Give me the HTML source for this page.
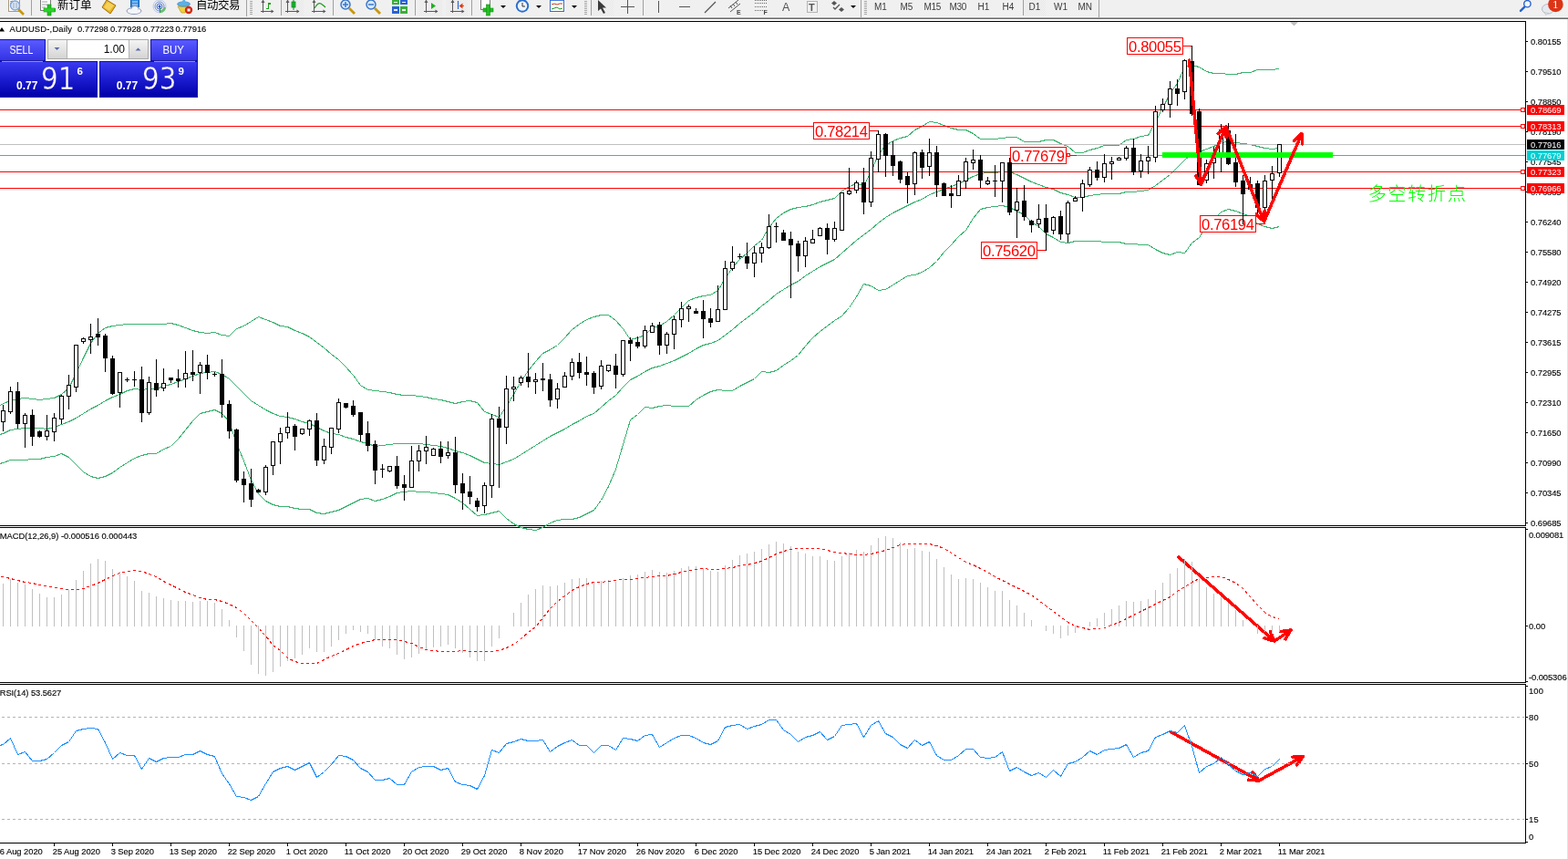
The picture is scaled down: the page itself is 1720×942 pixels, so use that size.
<!DOCTYPE html><html><head><meta charset="utf-8"><title>AUDUSD-,Daily</title>
<style>html,body{margin:0;padding:0;background:#fff;overflow:hidden;}svg{display:block;}text{white-space:pre;}</style></head><body>
<svg width="1720" height="942" viewBox="0 0 1720 942">
<defs><linearGradient id="gtab" x1="0" y1="0" x2="0" y2="1"><stop offset="0" stop-color="#5a5aff"/><stop offset="1" stop-color="#3333e6"/></linearGradient><linearGradient id="gboxU" gradientUnits="userSpaceOnUse" x1="0" y1="68" x2="0" y2="106"><stop offset="0" stop-color="#3a3af0"/><stop offset="0.5" stop-color="#1c1cd0"/><stop offset="1" stop-color="#0000a8"/></linearGradient><linearGradient id="gbox" x1="0" y1="0" x2="0" y2="1"><stop offset="0" stop-color="#3a3af0"/><stop offset="0.5" stop-color="#1c1cd0"/><stop offset="1" stop-color="#0000a8"/></linearGradient><linearGradient id="gbtn" x1="0" y1="0" x2="0" y2="1"><stop offset="0" stop-color="#f4f4f4"/><stop offset="1" stop-color="#d4d4d4"/></linearGradient><pattern id="pdot" width="2" height="2" patternUnits="userSpaceOnUse"><rect width="2" height="2" fill="#f4f4f4"/><rect width="1" height="1" fill="#e6e6e6"/><rect x="1" y="1" width="1" height="1" fill="#e6e6e6"/></pattern></defs>
<g shape-rendering="crispEdges">
<rect x="0" y="0" width="1720" height="18" fill="#f0f0f0"/>
<rect x="0" y="18" width="1720" height="1" fill="#f7f7f7"/>
<rect x="0" y="19" width="1720" height="1" fill="#a6a6a6"/>
<rect x="0" y="20" width="1720" height="1" fill="#6a6a6a"/>
</g>
<g id="toolbar">
<g shape-rendering="crispEdges">
<rect x="34" y="0" width="1" height="17" fill="#a0a0a0"/>
<rect x="270" y="0" width="1" height="18" fill="#a0a0a0"/>
<rect x="308" y="0" width="1" height="17" fill="#a0a0a0"/>
<rect x="365" y="0" width="1" height="17" fill="#a0a0a0"/>
<rect x="455" y="0" width="1" height="17" fill="#a0a0a0"/>
<rect x="517" y="0" width="1" height="17" fill="#a0a0a0"/>
<rect x="648" y="0" width="1" height="17" fill="#a0a0a0"/>
<rect x="705" y="0" width="1" height="17" fill="#a0a0a0"/>
<rect x="944" y="0" width="1" height="19" fill="#a0a0a0"/>
<rect x="1205" y="0" width="1" height="19" fill="#a0a0a0"/>
<!-- pressed buttons -->
<rect x="309" y="0" width="24" height="17" fill="url(#pdot)"/>
<rect x="460" y="0" width="25" height="17" fill="url(#pdot)"/>
<rect x="489" y="0" width="24" height="17" fill="url(#pdot)"/>
<rect x="649" y="0" width="24" height="17" fill="url(#pdot)"/>
<rect x="1122" y="0" width="25" height="17" fill="url(#pdot)"/>
<rect x="1122" y="0" width="1" height="17" fill="#a0a0a0"/>
<!-- grips -->
<g fill="#a8a8a8">
<rect x="274" y="1" width="3" height="1"/><rect x="274" y="3" width="3" height="1"/><rect x="274" y="5" width="3" height="1"/><rect x="274" y="7" width="3" height="1"/><rect x="274" y="9" width="3" height="1"/><rect x="274" y="11" width="3" height="1"/><rect x="274" y="13" width="3" height="1"/><rect x="274" y="15" width="3" height="1"/>
<rect x="641" y="1" width="3" height="1"/><rect x="641" y="3" width="3" height="1"/><rect x="641" y="5" width="3" height="1"/><rect x="641" y="7" width="3" height="1"/><rect x="641" y="9" width="3" height="1"/><rect x="641" y="11" width="3" height="1"/><rect x="641" y="13" width="3" height="1"/><rect x="641" y="15" width="3" height="1"/>
<rect x="948" y="1" width="3" height="1"/><rect x="948" y="3" width="3" height="1"/><rect x="948" y="5" width="3" height="1"/><rect x="948" y="7" width="3" height="1"/><rect x="948" y="9" width="3" height="1"/><rect x="948" y="11" width="3" height="1"/><rect x="948" y="13" width="3" height="1"/><rect x="948" y="15" width="3" height="1"/>
</g>
</g>
<!-- 1 magnifier doc -->
<rect x="9.5" y="-3.5" width="12" height="16" fill="#fff" stroke="#a89a80"/>
<path d="M11,2 L14,1 M11,4 L16,3" stroke="#8a8a8a" stroke-width="1"/>
<line x1="20" y1="10" x2="26" y2="16" stroke="#c8980f" stroke-width="2.6"/>
<circle cx="16.5" cy="6" r="5" fill="#dce8f6" stroke="#80a4d4" stroke-width="1.4"/>
<path d="M15,3 L15,9 M18,3 L18,9" stroke="#9aa8b8" stroke-width="1"/>
<!-- 3 new order -->
<rect x="44.5" y="-3.5" width="11" height="15" fill="#fff" stroke="#7c7c7c"/>
<path d="M46,2 L52,2 M46,5 L52,5 M46,8 L50,8" stroke="#a0a0a0" stroke-width="1"/>
<path d="M51.5,5.5 h4 v-0 M51,9 h10 v4 h-10 z" fill="#22c222"/>
<rect x="48" y="9" width="12" height="4" fill="#22c022" stroke="#119011" stroke-width="0.6"/>
<rect x="52" y="5" width="4" height="12" fill="#22c022" stroke="#119011" stroke-width="0.6"/>
<rect x="48.3" y="9.3" width="11.4" height="3.4" fill="#2ad42a"/>
<text x="63" y="10" style="font-size:12.5px" font-family='"Noto Sans CJK SC", "WenQuanYi Zen Hei", sans-serif' fill="#000">新订单</text>
<!-- 5 gold -->
<polygon points="112,8 117,0 127,6 121,15" fill="#e6b422" stroke="#a8700c" stroke-width="1"/>
<polygon points="114,8 118,2 125,6 120,12" fill="#f4d25a"/>
<!-- 6 cloud server -->
<rect x="143.5" y="-2.5" width="9" height="10" fill="#2f8be0" stroke="#1c64b4"/>
<path d="M145,2 h6 M145,5 h6" stroke="#cfe6ff" stroke-width="1"/>
<ellipse cx="147" cy="12" rx="8" ry="3.5" fill="#f2f5fa" stroke="#8c9ab4"/>
<ellipse cx="148" cy="9.5" rx="4" ry="3" fill="#f2f5fa" stroke="#8c9ab4"/>
<ellipse cx="147" cy="12.3" rx="7" ry="2.6" fill="#f2f5fa"/>
<!-- 7 radar -->
<circle cx="175" cy="7" r="7" fill="none" stroke="#b8c8e8" stroke-width="1"/>
<circle cx="175" cy="7" r="5" fill="none" stroke="#6a8ed8" stroke-width="1"/>
<circle cx="175" cy="7" r="3" fill="none" stroke="#4a70c8" stroke-width="1"/>
<path d="M176,13 A6,6 0 0 0 181,8" fill="none" stroke="#6cbf6c" stroke-width="2"/>
<line x1="175.5" y1="7" x2="175.5" y2="14" stroke="#2aa02a" stroke-width="1.2"/>
<circle cx="175" cy="7" r="1.5" fill="#2a5ac8"/>
<!-- 8 wizard -->
<polygon points="195,7 208,7 203,14 199,14" fill="#f0d040" stroke="#c0a020" stroke-width="0.8"/>
<ellipse cx="201.5" cy="4.5" rx="7" ry="2.6" fill="#5ab0e8" stroke="#3a88c8" stroke-width="0.8"/>
<polygon points="199,4 204,4 202,-3" fill="#5ab0e8"/>
<circle cx="207" cy="11" r="4.2" fill="#d42814"/>
<rect x="205.5" y="9.5" width="3" height="3" fill="#fff"/>
<text x="215" y="10" style="font-size:12.5px;letter-spacing:-0.5px" font-family='"Noto Sans CJK SC", "WenQuanYi Zen Hei", sans-serif' fill="#000">自动交易</text>
<!-- chart type icons -->
<g stroke="#5a5a5a" stroke-width="1" shape-rendering="crispEdges" fill="none">
<path d="M288.5,1 V14 M286,12.5 H300"/>
<path d="M315.5,1 V14 M313,12.5 H328"/>
<path d="M344.5,1 V14 M342,12.5 H357"/>
<path d="M467.5,1 V14 M465,12.5 H480"/>
<path d="M496.5,1 V14 M494,12.5 H509"/>
</g>
<polygon points="286.5,3 290.5,3 288.5,-0.5" fill="#5a5a5a"/><polygon points="297.5,10.5 297.5,14.5 300.5,12.5" fill="#5a5a5a"/><polygon points="313.5,3 317.5,3 315.5,-0.5" fill="#5a5a5a"/><polygon points="325.5,10.5 325.5,14.5 328.5,12.5" fill="#5a5a5a"/><polygon points="342.5,3 346.5,3 344.5,-0.5" fill="#5a5a5a"/><polygon points="354.5,10.5 354.5,14.5 357.5,12.5" fill="#5a5a5a"/><polygon points="465.5,3 469.5,3 467.5,-0.5" fill="#5a5a5a"/><polygon points="477.5,10.5 477.5,14.5 480.5,12.5" fill="#5a5a5a"/><polygon points="494.5,3 498.5,3 496.5,-0.5" fill="#5a5a5a"/><polygon points="506.5,10.5 506.5,14.5 509.5,12.5" fill="#5a5a5a"/>
<path d="M294.5,3 V10 M294.5,4 H297 M292,9.5 H294.5" stroke="#1aa01a" stroke-width="1.2" fill="none" shape-rendering="crispEdges"/>
<rect x="320" y="2" width="4" height="6" fill="#26c43a" stroke="#138a20" stroke-width="0.8"/>
<line x1="322" y1="0" x2="322" y2="11" stroke="#138a20" stroke-width="1"/>
<path d="M345,9 Q349,2 352,4 T357,8" fill="none" stroke="#1a9a1a" stroke-width="1.2"/>
<polygon points="473,3 478,6.5 473,10" fill="#20b020"/>
<line x1="502.5" y1="1" x2="502.5" y2="10" stroke="#2a6ad0" stroke-width="1.2"/>
<polygon points="503.5,6.5 507.5,3.5 507.5,9.5" fill="#e03a10"/>
<rect x="507" y="6" width="2" height="1" fill="#e03a10"/>
<!-- zoom in / out -->
<line x1="383" y1="9" x2="389" y2="15" stroke="#c8980f" stroke-width="2.8"/>
<circle cx="379" cy="5" r="5" fill="#d8e8f8" stroke="#3a78c8" stroke-width="1.5"/>
<path d="M376,5 h6 M379,2 v6" stroke="#3a78c8" stroke-width="1.5"/>
<line x1="411" y1="9" x2="417" y2="15" stroke="#c8980f" stroke-width="2.8"/>
<circle cx="407" cy="5" r="5" fill="#d8e8f8" stroke="#3a78c8" stroke-width="1.5"/>
<path d="M404,5 h6" stroke="#3a78c8" stroke-width="1.5"/>
<!-- tile -->
<g shape-rendering="crispEdges">
<rect x="430" y="-2" width="8" height="7" fill="#3cae3c"/>
<rect x="439" y="-2" width="8" height="7" fill="#2a62d2"/>
<rect x="430" y="7" width="8" height="8" fill="#2a62d2"/>
<rect x="439" y="7" width="8" height="8" fill="#3cae3c"/>
<rect x="432" y="2" width="4" height="1" fill="#e8f8e8"/>
<rect x="441" y="2" width="4" height="1" fill="#e8eef8"/>
<rect x="432" y="10" width="4" height="2" fill="#e8eef8"/>
<rect x="441" y="10" width="4" height="2" fill="#e8f8e8"/>
</g>
<!-- indicators -->
<rect x="527.5" y="-3.5" width="10" height="14" fill="#fff" stroke="#7c7c7c"/>
<rect x="530" y="9" width="11" height="4" fill="#22c022" stroke="#119011" stroke-width="0.6"/>
<rect x="533.5" y="5" width="4" height="12" fill="#22c022" stroke="#119011" stroke-width="0.6"/>
<polygon points="549,6 555,6 552,9" fill="#000"/>
<!-- clock -->
<circle cx="573" cy="6.5" r="7.2" fill="#2a6ed0"/>
<circle cx="573" cy="6.5" r="5.2" fill="#eef4fb"/>
<path d="M573,3 V7 H576" stroke="#333" stroke-width="1" fill="none"/>
<polygon points="588,6 594,6 591,9" fill="#000"/>
<!-- template -->
<rect x="603.5" y="-1.5" width="15" height="14" fill="#fff" stroke="#3a6ac8"/>
<rect x="604" y="-1" width="14" height="2" fill="#4a80d8"/>
<path d="M605,5 L608,4 L611,5 L614,4 L617,4" stroke="#c83a1a" stroke-width="1" fill="none"/>
<path d="M605,10 L608,9 L611,8 L614,10 L617,9" stroke="#1a9a1a" stroke-width="1" fill="none"/>
<polygon points="627,6 633,6 630,9" fill="#000"/>
<!-- cursor -->
<polygon points="656,0 656,12 659,9.5 662,15 664,14 661,8.5 665,8.5" fill="#3a3a3a"/>
<!-- crosshair etc -->
<g fill="#555" shape-rendering="crispEdges">
<rect x="681" y="7" width="15" height="1"/>
<rect x="688" y="0" width="1" height="15"/>
<rect x="722" y="1" width="1" height="13"/>
<rect x="745" y="7" width="12" height="1"/>
</g>
<line x1="773" y1="14" x2="785" y2="2" stroke="#555" stroke-width="1.2"/>
<!-- channel E -->
<path d="M799,9 L810,0 M801,13 L812,4 M801,6 L803,9 M804,4 L806,7 M807,2 L809,5" stroke="#555" stroke-width="1" fill="none"/>
<text x="808" y="16" style="font-size:7px;font-weight:bold" font-family='"Liberation Sans", sans-serif' fill="#444">E</text>
<!-- fibo F -->
<g fill="#666" shape-rendering="crispEdges">
<rect x="828" y="0" width="1" height="1"/><rect x="830" y="0" width="1" height="1"/><rect x="832" y="0" width="1" height="1"/><rect x="834" y="0" width="1" height="1"/><rect x="836" y="0" width="1" height="1"/><rect x="838" y="0" width="1" height="1"/><rect x="840" y="0" width="1" height="1"/>
<rect x="828" y="3" width="1" height="1"/><rect x="830" y="3" width="1" height="1"/><rect x="832" y="3" width="1" height="1"/><rect x="834" y="3" width="1" height="1"/><rect x="836" y="3" width="1" height="1"/><rect x="838" y="3" width="1" height="1"/><rect x="840" y="3" width="1" height="1"/>
<rect x="828" y="7" width="1" height="1"/><rect x="830" y="7" width="1" height="1"/><rect x="832" y="7" width="1" height="1"/><rect x="834" y="7" width="1" height="1"/><rect x="836" y="7" width="1" height="1"/><rect x="838" y="7" width="1" height="1"/><rect x="840" y="7" width="1" height="1"/>
<rect x="828" y="11" width="1" height="1"/><rect x="830" y="11" width="1" height="1"/><rect x="832" y="11" width="1" height="1"/><rect x="834" y="11" width="1" height="1"/><rect x="836" y="11" width="1" height="1"/>
</g>
<text x="837.5" y="16" style="font-size:7px;font-weight:bold" font-family='"Liberation Sans", sans-serif' fill="#444">F</text>
<!-- A, T -->
<text x="858" y="12" style="font-size:12.5px" font-family='"Liberation Sans", sans-serif' fill="#555">A</text>
<rect x="885.5" y="1.5" width="11" height="12" fill="none" stroke="#777" stroke-width="1" stroke-dasharray="1,1"/>
<text x="887" y="12" style="font-size:11px;font-weight:bold" font-family='"Liberation Sans", sans-serif' fill="#555">T</text>
<!-- arrows icon -->
<polygon points="915,1 918,3.5 915,6 912,3.5" fill="#555"/>
<polygon points="923,8 926,10.5 923,13 920,10.5" fill="#555"/>
<path d="M914,8 L916,10 L921,5" stroke="#555" stroke-width="1.3" fill="none"/>
<polygon points="933,6 939,6 936,9" fill="#000"/>
<!-- timeframes -->
<g font-family='"Liberation Sans", sans-serif' style="font-size:10px" fill="#3c3c3c">
<text x="959" y="11">M1</text>
<text x="987.5" y="11">M5</text>
<text x="1013.5" y="11" style="letter-spacing:-0.3px">M15</text>
<text x="1041.5" y="11" style="letter-spacing:-0.3px">M30</text>
<text x="1072.5" y="11">H1</text>
<text x="1099.5" y="11">H4</text>
<text x="1128.5" y="11">D1</text>
<text x="1156" y="11">W1</text>
<text x="1182.5" y="11">MN</text>
</g>
<!-- search -->
<line x1="1672.3" y1="7.6" x2="1668" y2="11.9" stroke="#2a62c8" stroke-width="2.4" stroke-linecap="round"/>
<circle cx="1675.4" cy="4.2" r="3.7" fill="#f2f6fc" stroke="#2a62c8" stroke-width="1.4"/>
<!-- chat + badge -->
<ellipse cx="1698" cy="9.8" rx="6.5" ry="5.3" fill="#e6e9ef" stroke="#b4bac6" stroke-width="1"/>
<polygon points="1694.5,13.5 1695.5,16.5 1698.5,14.5" fill="#e6e9ef" stroke="#b4bac6" stroke-width="0.6"/>
<circle cx="1706.4" cy="4.9" r="8.3" fill="#dc3416"/>
<text x="1706.2" y="8.8" text-anchor="middle" style="font-size:13px" font-family='"Liberation Serif", serif' fill="#fff">1</text>

</g>
<g shape-rendering="crispEdges">
<rect x="1719" y="21" width="1" height="921" fill="#e3e3e3"/>
<rect x="0" y="23" width="1674" height="1" fill="#000"/>
<rect x="0" y="576" width="1674" height="1" fill="#000"/>
<rect x="1673" y="23" width="1" height="554" fill="#000"/>
<rect x="0" y="578" width="1674" height="1" fill="#000"/>
<rect x="0" y="748" width="1674" height="1" fill="#000"/>
<rect x="1673" y="578" width="1" height="171" fill="#000"/>
<rect x="0" y="750" width="1674" height="1" fill="#000"/>
<rect x="0" y="924" width="1674" height="1" fill="#000"/>
<rect x="1673" y="750" width="1" height="175" fill="#000"/>
</g>
<polygon points="1415,24 1424,24 1419.5,28.5" fill="#c0c0c0"/>
<g shape-rendering="crispEdges">
<polyline points="-4.5,447.5 3.5,442.5 11.5,439.5 19.5,437.5 27.5,436.5 35.5,437.5 43.5,438.5 51.5,437.5 59.5,436.5 67.5,432.5 75.5,425.5 83.5,409.5 91.5,392.5 99.5,376.5 107.5,365.5 115.5,359.5 123.5,357.5 131.5,356.5 139.5,355.5 147.5,355.5 155.5,355.5 163.5,355.5 171.5,355.5 179.5,355.5 187.5,354.5 195.5,356.5 203.5,359.5 211.5,362.5 219.5,364.5 227.5,365.5 235.5,364.5 243.5,367.5 251.5,368.5 259.5,360.5 267.5,357.5 275.5,352.5 283.5,347.5 291.5,350.5 299.5,353.5 307.5,357.5 315.5,358.5 323.5,362.5 331.5,365.5 339.5,369.5 347.5,375.5 355.5,381.5 363.5,388.5 371.5,394.5 379.5,402.5 387.5,411.5 395.5,422.5 403.5,427.5 411.5,428.5 419.5,429.5 427.5,430.5 435.5,432.5 443.5,433.5 451.5,433.5 459.5,434.5 467.5,435.5 475.5,437.5 483.5,438.5 491.5,440.5 499.5,442.5 507.5,440.5 515.5,439.5 523.5,441.5 531.5,451.5 539.5,454.5 547.5,457.5 555.5,445.5 563.5,432.5 571.5,418.5 579.5,406.5 587.5,396.5 595.5,387.5 603.5,383.5 611.5,378.5 619.5,370.5 627.5,361.5 635.5,355.5 643.5,350.5 651.5,347.5 659.5,345.5 667.5,345.5 675.5,351.5 683.5,360.5 691.5,372.5 699.5,370.5 707.5,367.5 715.5,359.5 723.5,357.5 731.5,352.5 739.5,345.5 747.5,337.5 755.5,329.5 763.5,326.5 771.5,324.5 779.5,323.5 787.5,318.5 795.5,305.5 803.5,293.5 811.5,284.5 819.5,277.5 827.5,269.5 835.5,263.5 843.5,249.5 851.5,239.5 859.5,233.5 867.5,229.5 875.5,227.5 883.5,226.5 891.5,224.5 899.5,221.5 907.5,219.5 915.5,217.5 923.5,209.5 931.5,204.5 939.5,201.5 947.5,203.5 955.5,188.5 963.5,169.5 971.5,159.5 979.5,154.5 987.5,151.5 995.5,149.5 1003.5,142.5 1011.5,138.5 1019.5,133.5 1027.5,134.5 1035.5,137.5 1043.5,140.5 1051.5,142.5 1059.5,142.5 1067.5,146.5 1075.5,152.5 1083.5,152.5 1091.5,152.5 1099.5,151.5 1107.5,150.5 1115.5,150.5 1123.5,155.5 1131.5,155.5 1139.5,155.5 1147.5,153.5 1155.5,153.5 1163.5,157.5 1171.5,160.5 1179.5,167.5 1187.5,167.5 1195.5,164.5 1203.5,162.5 1211.5,159.5 1219.5,159.5 1227.5,159.5 1235.5,153.5 1243.5,152.5 1251.5,149.5 1259.5,148.5 1267.5,133.5 1275.5,118.5 1283.5,102.5 1291.5,91.5 1299.5,73.5 1307.5,71.5 1315.5,73.5 1323.5,78.5 1331.5,80.5 1339.5,80.5 1347.5,81.5 1355.5,81.5 1363.5,79.5 1371.5,79.5 1379.5,76.5 1387.5,76.5 1395.5,76.5 1403.5,75.5" fill="none" stroke="#3cb371" stroke-width="1" />
<polyline points="-4.5,477.5 3.5,475.5 11.5,471.5 19.5,470.5 27.5,469.5 35.5,469.5 43.5,469.5 51.5,470.5 59.5,468.5 67.5,465.5 75.5,462.5 83.5,458.5 91.5,453.5 99.5,448.5 107.5,444.5 115.5,439.5 123.5,435.5 131.5,432.5 139.5,428.5 147.5,426.5 155.5,427.5 163.5,426.5 171.5,426.5 179.5,423.5 187.5,421.5 195.5,418.5 203.5,415.5 211.5,412.5 219.5,409.5 227.5,408.5 235.5,407.5 243.5,410.5 251.5,415.5 259.5,423.5 267.5,431.5 275.5,439.5 283.5,444.5 291.5,449.5 299.5,453.5 307.5,456.5 315.5,457.5 323.5,459.5 331.5,462.5 339.5,464.5 347.5,468.5 355.5,472.5 363.5,475.5 371.5,476.5 379.5,479.5 387.5,481.5 395.5,484.5 403.5,486.5 411.5,489.5 419.5,488.5 427.5,487.5 435.5,486.5 443.5,486.5 451.5,486.5 459.5,486.5 467.5,487.5 475.5,488.5 483.5,489.5 491.5,491.5 499.5,494.5 507.5,496.5 515.5,499.5 523.5,503.5 531.5,507.5 539.5,508.5 547.5,509.5 555.5,506.5 563.5,503.5 571.5,498.5 579.5,493.5 587.5,488.5 595.5,483.5 603.5,478.5 611.5,474.5 619.5,470.5 627.5,465.5 635.5,461.5 643.5,456.5 651.5,453.5 659.5,446.5 667.5,439.5 675.5,433.5 683.5,424.5 691.5,416.5 699.5,412.5 707.5,407.5 715.5,403.5 723.5,401.5 731.5,398.5 739.5,395.5 747.5,391.5 755.5,387.5 763.5,382.5 771.5,378.5 779.5,376.5 787.5,373.5 795.5,367.5 803.5,361.5 811.5,354.5 819.5,348.5 827.5,342.5 835.5,335.5 843.5,329.5 851.5,322.5 859.5,317.5 867.5,312.5 875.5,308.5 883.5,302.5 891.5,297.5 899.5,292.5 907.5,288.5 915.5,284.5 923.5,277.5 931.5,270.5 939.5,263.5 947.5,257.5 955.5,251.5 963.5,244.5 971.5,238.5 979.5,233.5 987.5,229.5 995.5,225.5 1003.5,221.5 1011.5,218.5 1019.5,213.5 1027.5,210.5 1035.5,207.5 1043.5,204.5 1051.5,201.5 1059.5,197.5 1067.5,193.5 1075.5,190.5 1083.5,189.5 1091.5,189.5 1099.5,188.5 1107.5,188.5 1115.5,191.5 1123.5,195.5 1131.5,199.5 1139.5,202.5 1147.5,205.5 1155.5,207.5 1163.5,211.5 1171.5,213.5 1179.5,216.5 1187.5,216.5 1195.5,214.5 1203.5,213.5 1211.5,212.5 1219.5,212.5 1227.5,212.5 1235.5,210.5 1243.5,210.5 1251.5,209.5 1259.5,208.5 1267.5,203.5 1275.5,197.5 1283.5,191.5 1291.5,183.5 1299.5,175.5 1307.5,168.5 1315.5,166.5 1323.5,163.5 1331.5,160.5 1339.5,156.5 1347.5,155.5 1355.5,156.5 1363.5,157.5 1371.5,158.5 1379.5,160.5 1387.5,162.5 1395.5,163.5 1403.5,162.5" fill="none" stroke="#3cb371" stroke-width="1" />
<polyline points="-4.5,509.5 3.5,507.5 11.5,504.5 19.5,504.5 27.5,504.5 35.5,503.5 43.5,503.5 51.5,501.5 59.5,500.5 67.5,497.5 75.5,501.5 83.5,509.5 91.5,517.5 99.5,522.5 107.5,524.5 115.5,522.5 123.5,518.5 131.5,512.5 139.5,507.5 147.5,502.5 155.5,499.5 163.5,497.5 171.5,497.5 179.5,492.5 187.5,489.5 195.5,481.5 203.5,471.5 211.5,461.5 219.5,453.5 227.5,451.5 235.5,449.5 243.5,453.5 251.5,462.5 259.5,486.5 267.5,505.5 275.5,526.5 283.5,541.5 291.5,549.5 299.5,553.5 307.5,555.5 315.5,555.5 323.5,557.5 331.5,558.5 339.5,558.5 347.5,562.5 355.5,563.5 363.5,561.5 371.5,559.5 379.5,555.5 387.5,551.5 395.5,547.5 403.5,546.5 411.5,549.5 419.5,547.5 427.5,544.5 435.5,540.5 443.5,539.5 451.5,538.5 459.5,539.5 467.5,539.5 475.5,540.5 483.5,541.5 491.5,542.5 499.5,546.5 507.5,551.5 515.5,558.5 523.5,565.5 531.5,564.5 539.5,562.5 547.5,560.5 555.5,568.5 563.5,574.5 571.5,578.5 579.5,580.5 587.5,581.5 595.5,578.5 603.5,573.5 611.5,570.5 619.5,569.5 627.5,569.5 635.5,567.5 643.5,563.5 651.5,559.5 659.5,548.5 667.5,533.5 675.5,514.5 683.5,487.5 691.5,460.5 699.5,454.5 707.5,446.5 715.5,447.5 723.5,445.5 731.5,444.5 739.5,445.5 747.5,445.5 755.5,445.5 763.5,438.5 771.5,433.5 779.5,429.5 787.5,427.5 795.5,428.5 803.5,428.5 811.5,423.5 819.5,419.5 827.5,415.5 835.5,407.5 843.5,408.5 851.5,406.5 859.5,400.5 867.5,395.5 875.5,389.5 883.5,379.5 891.5,370.5 899.5,363.5 907.5,357.5 915.5,351.5 923.5,346.5 931.5,337.5 939.5,325.5 947.5,311.5 955.5,313.5 963.5,318.5 971.5,317.5 979.5,312.5 987.5,307.5 995.5,302.5 1003.5,301.5 1011.5,298.5 1019.5,293.5 1027.5,286.5 1035.5,276.5 1043.5,268.5 1051.5,259.5 1059.5,252.5 1067.5,239.5 1075.5,229.5 1083.5,227.5 1091.5,226.5 1099.5,225.5 1107.5,227.5 1115.5,231.5 1123.5,235.5 1131.5,243.5 1139.5,248.5 1147.5,256.5 1155.5,260.5 1163.5,265.5 1171.5,266.5 1179.5,264.5 1187.5,264.5 1195.5,264.5 1203.5,264.5 1211.5,265.5 1219.5,265.5 1227.5,265.5 1235.5,267.5 1243.5,267.5 1251.5,268.5 1259.5,268.5 1267.5,273.5 1275.5,277.5 1283.5,279.5 1291.5,276.5 1299.5,277.5 1307.5,266.5 1315.5,260.5 1323.5,247.5 1331.5,240.5 1339.5,232.5 1347.5,229.5 1355.5,231.5 1363.5,234.5 1371.5,237.5 1379.5,245.5 1387.5,248.5 1395.5,250.5 1403.5,248.5" fill="none" stroke="#3cb371" stroke-width="1" />
</g>
<g shape-rendering="crispEdges">
<rect x="0" y="120" width="1668" height="1" fill="#ff0000"/>
<rect x="1668.5" y="118.5" width="4" height="4" fill="#fff" stroke="#ff0000" stroke-width="1"/>
<rect x="0" y="138" width="1668" height="1" fill="#ff0000"/>
<rect x="1668.5" y="136.5" width="4" height="4" fill="#fff" stroke="#ff0000" stroke-width="1"/>
<rect x="0" y="188" width="1668" height="1" fill="#ff0000"/>
<rect x="1668.5" y="186.5" width="4" height="4" fill="#fff" stroke="#ff0000" stroke-width="1"/>
<rect x="0" y="206" width="1668" height="1" fill="#ff0000"/>
<rect x="1668.5" y="204.5" width="4" height="4" fill="#fff" stroke="#ff0000" stroke-width="1"/>
<rect x="0" y="158" width="1673" height="1" fill="#c0c0c0"/>
<rect x="0" y="170" width="1673" height="1" fill="#00ced1"/>
</g>
<rect x="1236.5" y="41.5" width="61" height="18" fill="#fff" stroke="#ff0000" stroke-width="1" shape-rendering="crispEdges"/>
<rect x="1298" y="50" width="10" height="1" fill="#ff0000" shape-rendering="crispEdges"/>
<text x="1238" y="57" fill="#ff0000" text-anchor="start" style="font-size:16.6px;letter-spacing:-0.35px;" font-family='"Liberation Sans", Arial, sans-serif' >0.80055</text>
<rect x="892.5" y="134.5" width="61" height="18" fill="#fff" stroke="#ff0000" stroke-width="1" shape-rendering="crispEdges"/>
<rect x="954" y="143" width="10" height="1" fill="#ff0000" shape-rendering="crispEdges"/>
<text x="894" y="150" fill="#ff0000" text-anchor="start" style="font-size:16.6px;letter-spacing:-0.35px;" font-family='"Liberation Sans", Arial, sans-serif' >0.78214</text>
<rect x="1108.5" y="161.5" width="61" height="18" fill="#fff" stroke="#ff0000" stroke-width="1" shape-rendering="crispEdges"/>
<rect x="1170" y="170" width="11" height="1" fill="#ff0000" shape-rendering="crispEdges"/>
<text x="1110" y="177" fill="#ff0000" text-anchor="start" style="font-size:16.6px;letter-spacing:-0.35px;" font-family='"Liberation Sans", Arial, sans-serif' >0.77679</text>
<rect x="1076.5" y="265.5" width="61" height="18" fill="#fff" stroke="#ff0000" stroke-width="1" shape-rendering="crispEdges"/>
<rect x="1138" y="274" width="10" height="1" fill="#ff0000" shape-rendering="crispEdges"/>
<text x="1078" y="281" fill="#ff0000" text-anchor="start" style="font-size:16.6px;letter-spacing:-0.35px;" font-family='"Liberation Sans", Arial, sans-serif' >0.75620</text>
<rect x="1316.5" y="236.5" width="61" height="18" fill="#fff" stroke="#ff0000" stroke-width="1" shape-rendering="crispEdges"/>
<rect x="1378" y="245" width="10" height="1" fill="#ff0000" shape-rendering="crispEdges"/>
<text x="1318" y="252" fill="#ff0000" text-anchor="start" style="font-size:16.6px;letter-spacing:-0.35px;" font-family='"Liberation Sans", Arial, sans-serif' >0.76194</text>
<rect x="1170.5" y="168.5" width="3" height="3" fill="#fff" stroke="#ff0000" stroke-width="1" shape-rendering="crispEdges"/>
<g shape-rendering="crispEdges">
<rect x="3" y="444" width="1" height="29" fill="#000"/>
<rect x="1" y="450" width="5" height="13" fill="#000"/>
<rect x="2" y="451" width="3" height="11" fill="#fff"/>
<rect x="11" y="424" width="1" height="30" fill="#000"/>
<rect x="9" y="429" width="5" height="23" fill="#000"/>
<rect x="10" y="430" width="3" height="21" fill="#fff"/>
<rect x="19" y="419" width="1" height="51" fill="#000"/>
<rect x="17" y="429" width="5" height="36" fill="#000"/>
<rect x="27" y="453" width="1" height="38" fill="#000"/>
<rect x="25" y="455" width="5" height="10" fill="#000"/>
<rect x="26" y="456" width="3" height="8" fill="#fff"/>
<rect x="35" y="449" width="1" height="40" fill="#000"/>
<rect x="33" y="455" width="5" height="24" fill="#000"/>
<rect x="43" y="472" width="1" height="8" fill="#000"/>
<rect x="41" y="473" width="5" height="6" fill="#000"/>
<rect x="51" y="455" width="1" height="28" fill="#000"/>
<rect x="49" y="472" width="5" height="7" fill="#000"/>
<rect x="50" y="473" width="3" height="5" fill="#fff"/>
<rect x="59" y="453" width="1" height="31" fill="#000"/>
<rect x="57" y="458" width="5" height="16" fill="#000"/>
<rect x="58" y="459" width="3" height="14" fill="#fff"/>
<rect x="67" y="433" width="1" height="32" fill="#000"/>
<rect x="65" y="434" width="5" height="26" fill="#000"/>
<rect x="66" y="435" width="3" height="24" fill="#fff"/>
<rect x="75" y="411" width="1" height="38" fill="#000"/>
<rect x="73" y="422" width="5" height="13" fill="#000"/>
<rect x="74" y="423" width="3" height="11" fill="#fff"/>
<rect x="83" y="378" width="1" height="52" fill="#000"/>
<rect x="81" y="378" width="5" height="47" fill="#000"/>
<rect x="82" y="379" width="3" height="45" fill="#fff"/>
<rect x="91" y="370" width="1" height="7" fill="#000"/>
<rect x="89" y="371" width="5" height="4" fill="#000"/>
<rect x="90" y="372" width="3" height="2" fill="#fff"/>
<rect x="99" y="355" width="1" height="33" fill="#000"/>
<rect x="97" y="369" width="5" height="4" fill="#000"/>
<rect x="98" y="370" width="3" height="2" fill="#fff"/>
<rect x="107" y="349" width="1" height="30" fill="#000"/>
<rect x="105" y="366" width="5" height="4" fill="#000"/>
<rect x="115" y="366" width="1" height="42" fill="#000"/>
<rect x="113" y="368" width="5" height="25" fill="#000"/>
<rect x="123" y="390" width="1" height="43" fill="#000"/>
<rect x="121" y="393" width="5" height="39" fill="#000"/>
<rect x="131" y="408" width="1" height="39" fill="#000"/>
<rect x="129" y="408" width="5" height="23" fill="#000"/>
<rect x="130" y="409" width="3" height="21" fill="#fff"/>
<rect x="139" y="414" width="1" height="5" fill="#000"/>
<rect x="137" y="416" width="5" height="1" fill="#000"/>
<rect x="147" y="407" width="1" height="17" fill="#000"/>
<rect x="145" y="416" width="5" height="1" fill="#000"/>
<rect x="155" y="402" width="1" height="61" fill="#000"/>
<rect x="153" y="416" width="5" height="37" fill="#000"/>
<rect x="163" y="413" width="1" height="42" fill="#000"/>
<rect x="161" y="419" width="5" height="34" fill="#000"/>
<rect x="162" y="420" width="3" height="32" fill="#fff"/>
<rect x="171" y="394" width="1" height="41" fill="#000"/>
<rect x="169" y="420" width="5" height="8" fill="#000"/>
<rect x="179" y="404" width="1" height="25" fill="#000"/>
<rect x="177" y="420" width="5" height="6" fill="#000"/>
<rect x="178" y="421" width="3" height="4" fill="#fff"/>
<rect x="187" y="414" width="1" height="6" fill="#000"/>
<rect x="185" y="414" width="5" height="3" fill="#000"/>
<rect x="195" y="405" width="1" height="20" fill="#000"/>
<rect x="193" y="415" width="5" height="3" fill="#000"/>
<rect x="203" y="385" width="1" height="40" fill="#000"/>
<rect x="201" y="409" width="5" height="7" fill="#000"/>
<rect x="202" y="410" width="3" height="5" fill="#fff"/>
<rect x="211" y="384" width="1" height="34" fill="#000"/>
<rect x="209" y="408" width="5" height="3" fill="#000"/>
<rect x="219" y="397" width="1" height="35" fill="#000"/>
<rect x="217" y="400" width="5" height="9" fill="#000"/>
<rect x="218" y="401" width="3" height="7" fill="#fff"/>
<rect x="227" y="389" width="1" height="27" fill="#000"/>
<rect x="225" y="400" width="5" height="9" fill="#000"/>
<rect x="235" y="408" width="1" height="5" fill="#000"/>
<rect x="233" y="410" width="5" height="1" fill="#000"/>
<rect x="243" y="394" width="1" height="64" fill="#000"/>
<rect x="241" y="410" width="5" height="34" fill="#000"/>
<rect x="251" y="439" width="1" height="42" fill="#000"/>
<rect x="249" y="443" width="5" height="30" fill="#000"/>
<rect x="259" y="470" width="1" height="59" fill="#000"/>
<rect x="257" y="471" width="5" height="56" fill="#000"/>
<rect x="267" y="517" width="1" height="34" fill="#000"/>
<rect x="265" y="525" width="5" height="7" fill="#000"/>
<rect x="275" y="514" width="1" height="42" fill="#000"/>
<rect x="273" y="530" width="5" height="18" fill="#000"/>
<rect x="283" y="536" width="1" height="4" fill="#000"/>
<rect x="281" y="537" width="5" height="3" fill="#000"/>
<rect x="291" y="510" width="1" height="33" fill="#000"/>
<rect x="289" y="512" width="5" height="28" fill="#000"/>
<rect x="290" y="513" width="3" height="26" fill="#fff"/>
<rect x="299" y="484" width="1" height="37" fill="#000"/>
<rect x="297" y="484" width="5" height="27" fill="#000"/>
<rect x="298" y="485" width="3" height="25" fill="#fff"/>
<rect x="307" y="469" width="1" height="40" fill="#000"/>
<rect x="305" y="475" width="5" height="10" fill="#000"/>
<rect x="306" y="476" width="3" height="8" fill="#fff"/>
<rect x="315" y="452" width="1" height="29" fill="#000"/>
<rect x="313" y="468" width="5" height="7" fill="#000"/>
<rect x="314" y="469" width="3" height="5" fill="#fff"/>
<rect x="323" y="465" width="1" height="29" fill="#000"/>
<rect x="321" y="467" width="5" height="12" fill="#000"/>
<rect x="331" y="470" width="1" height="7" fill="#000"/>
<rect x="329" y="470" width="5" height="6" fill="#000"/>
<rect x="330" y="471" width="3" height="4" fill="#fff"/>
<rect x="339" y="460" width="1" height="18" fill="#000"/>
<rect x="337" y="461" width="5" height="10" fill="#000"/>
<rect x="338" y="462" width="3" height="8" fill="#fff"/>
<rect x="347" y="453" width="1" height="58" fill="#000"/>
<rect x="345" y="461" width="5" height="44" fill="#000"/>
<rect x="355" y="481" width="1" height="28" fill="#000"/>
<rect x="353" y="489" width="5" height="16" fill="#000"/>
<rect x="354" y="490" width="3" height="14" fill="#fff"/>
<rect x="363" y="469" width="1" height="29" fill="#000"/>
<rect x="361" y="469" width="5" height="22" fill="#000"/>
<rect x="362" y="470" width="3" height="20" fill="#fff"/>
<rect x="371" y="437" width="1" height="38" fill="#000"/>
<rect x="369" y="441" width="5" height="30" fill="#000"/>
<rect x="370" y="442" width="3" height="28" fill="#fff"/>
<rect x="379" y="442" width="1" height="6" fill="#000"/>
<rect x="377" y="442" width="5" height="5" fill="#000"/>
<rect x="387" y="439" width="1" height="18" fill="#000"/>
<rect x="385" y="445" width="5" height="10" fill="#000"/>
<rect x="395" y="452" width="1" height="32" fill="#000"/>
<rect x="393" y="452" width="5" height="25" fill="#000"/>
<rect x="403" y="462" width="1" height="33" fill="#000"/>
<rect x="401" y="475" width="5" height="14" fill="#000"/>
<rect x="411" y="483" width="1" height="48" fill="#000"/>
<rect x="409" y="487" width="5" height="29" fill="#000"/>
<rect x="419" y="509" width="1" height="15" fill="#000"/>
<rect x="417" y="514" width="5" height="1" fill="#000"/>
<rect x="427" y="511" width="1" height="7" fill="#000"/>
<rect x="425" y="511" width="5" height="6" fill="#000"/>
<rect x="426" y="512" width="3" height="4" fill="#fff"/>
<rect x="435" y="500" width="1" height="36" fill="#000"/>
<rect x="433" y="511" width="5" height="22" fill="#000"/>
<rect x="443" y="521" width="1" height="28" fill="#000"/>
<rect x="441" y="531" width="5" height="4" fill="#000"/>
<rect x="451" y="489" width="1" height="46" fill="#000"/>
<rect x="449" y="505" width="5" height="30" fill="#000"/>
<rect x="450" y="506" width="3" height="28" fill="#fff"/>
<rect x="459" y="488" width="1" height="29" fill="#000"/>
<rect x="457" y="494" width="5" height="12" fill="#000"/>
<rect x="458" y="495" width="3" height="10" fill="#fff"/>
<rect x="467" y="478" width="1" height="31" fill="#000"/>
<rect x="465" y="490" width="5" height="5" fill="#000"/>
<rect x="466" y="491" width="3" height="3" fill="#fff"/>
<rect x="475" y="491" width="1" height="9" fill="#000"/>
<rect x="473" y="492" width="5" height="8" fill="#000"/>
<rect x="474" y="493" width="3" height="6" fill="#fff"/>
<rect x="483" y="484" width="1" height="24" fill="#000"/>
<rect x="481" y="492" width="5" height="9" fill="#000"/>
<rect x="491" y="484" width="1" height="19" fill="#000"/>
<rect x="489" y="496" width="5" height="4" fill="#000"/>
<rect x="490" y="497" width="3" height="2" fill="#fff"/>
<rect x="499" y="479" width="1" height="62" fill="#000"/>
<rect x="497" y="496" width="5" height="36" fill="#000"/>
<rect x="507" y="519" width="1" height="40" fill="#000"/>
<rect x="505" y="530" width="5" height="11" fill="#000"/>
<rect x="515" y="522" width="1" height="31" fill="#000"/>
<rect x="513" y="539" width="5" height="6" fill="#000"/>
<rect x="523" y="546" width="1" height="15" fill="#000"/>
<rect x="521" y="549" width="5" height="7" fill="#000"/>
<rect x="531" y="529" width="1" height="34" fill="#000"/>
<rect x="529" y="532" width="5" height="23" fill="#000"/>
<rect x="530" y="533" width="3" height="21" fill="#fff"/>
<rect x="539" y="454" width="1" height="92" fill="#000"/>
<rect x="537" y="459" width="5" height="74" fill="#000"/>
<rect x="538" y="460" width="3" height="72" fill="#fff"/>
<rect x="547" y="446" width="1" height="89" fill="#000"/>
<rect x="545" y="459" width="5" height="10" fill="#000"/>
<rect x="555" y="412" width="1" height="75" fill="#000"/>
<rect x="553" y="426" width="5" height="43" fill="#000"/>
<rect x="554" y="427" width="3" height="41" fill="#fff"/>
<rect x="563" y="413" width="1" height="27" fill="#000"/>
<rect x="561" y="424" width="5" height="3" fill="#000"/>
<rect x="562" y="425" width="3" height="1" fill="#fff"/>
<rect x="571" y="412" width="1" height="11" fill="#000"/>
<rect x="569" y="414" width="5" height="6" fill="#000"/>
<rect x="570" y="415" width="3" height="4" fill="#fff"/>
<rect x="579" y="387" width="1" height="38" fill="#000"/>
<rect x="577" y="413" width="5" height="6" fill="#000"/>
<rect x="587" y="409" width="1" height="23" fill="#000"/>
<rect x="585" y="416" width="5" height="3" fill="#000"/>
<rect x="586" y="417" width="3" height="1" fill="#fff"/>
<rect x="595" y="398" width="1" height="31" fill="#000"/>
<rect x="593" y="415" width="5" height="2" fill="#000"/>
<rect x="603" y="410" width="1" height="36" fill="#000"/>
<rect x="601" y="416" width="5" height="23" fill="#000"/>
<rect x="611" y="420" width="1" height="28" fill="#000"/>
<rect x="609" y="426" width="5" height="12" fill="#000"/>
<rect x="610" y="427" width="3" height="10" fill="#fff"/>
<rect x="619" y="408" width="1" height="17" fill="#000"/>
<rect x="617" y="412" width="5" height="13" fill="#000"/>
<rect x="618" y="413" width="3" height="11" fill="#fff"/>
<rect x="627" y="393" width="1" height="24" fill="#000"/>
<rect x="625" y="397" width="5" height="16" fill="#000"/>
<rect x="626" y="398" width="3" height="14" fill="#fff"/>
<rect x="635" y="387" width="1" height="28" fill="#000"/>
<rect x="633" y="397" width="5" height="12" fill="#000"/>
<rect x="643" y="391" width="1" height="32" fill="#000"/>
<rect x="641" y="408" width="5" height="3" fill="#000"/>
<rect x="651" y="407" width="1" height="25" fill="#000"/>
<rect x="649" y="409" width="5" height="16" fill="#000"/>
<rect x="659" y="395" width="1" height="32" fill="#000"/>
<rect x="657" y="401" width="5" height="23" fill="#000"/>
<rect x="658" y="402" width="3" height="21" fill="#fff"/>
<rect x="667" y="400" width="1" height="8" fill="#000"/>
<rect x="665" y="400" width="5" height="7" fill="#000"/>
<rect x="666" y="401" width="3" height="5" fill="#fff"/>
<rect x="675" y="388" width="1" height="38" fill="#000"/>
<rect x="673" y="401" width="5" height="10" fill="#000"/>
<rect x="683" y="373" width="1" height="40" fill="#000"/>
<rect x="681" y="373" width="5" height="38" fill="#000"/>
<rect x="682" y="374" width="3" height="36" fill="#fff"/>
<rect x="691" y="370" width="1" height="26" fill="#000"/>
<rect x="689" y="373" width="5" height="4" fill="#000"/>
<rect x="699" y="369" width="1" height="13" fill="#000"/>
<rect x="697" y="375" width="5" height="5" fill="#000"/>
<rect x="707" y="357" width="1" height="25" fill="#000"/>
<rect x="705" y="362" width="5" height="18" fill="#000"/>
<rect x="706" y="363" width="3" height="16" fill="#fff"/>
<rect x="715" y="354" width="1" height="11" fill="#000"/>
<rect x="713" y="357" width="5" height="8" fill="#000"/>
<rect x="714" y="358" width="3" height="6" fill="#fff"/>
<rect x="723" y="353" width="1" height="36" fill="#000"/>
<rect x="721" y="356" width="5" height="23" fill="#000"/>
<rect x="731" y="364" width="1" height="24" fill="#000"/>
<rect x="729" y="366" width="5" height="13" fill="#000"/>
<rect x="730" y="367" width="3" height="11" fill="#fff"/>
<rect x="739" y="346" width="1" height="37" fill="#000"/>
<rect x="737" y="350" width="5" height="17" fill="#000"/>
<rect x="738" y="351" width="3" height="15" fill="#fff"/>
<rect x="747" y="331" width="1" height="28" fill="#000"/>
<rect x="745" y="338" width="5" height="13" fill="#000"/>
<rect x="746" y="339" width="3" height="11" fill="#fff"/>
<rect x="755" y="334" width="1" height="19" fill="#000"/>
<rect x="753" y="336" width="5" height="3" fill="#000"/>
<rect x="754" y="337" width="3" height="1" fill="#fff"/>
<rect x="763" y="338" width="1" height="6" fill="#000"/>
<rect x="761" y="341" width="5" height="3" fill="#000"/>
<rect x="771" y="329" width="1" height="42" fill="#000"/>
<rect x="769" y="341" width="5" height="9" fill="#000"/>
<rect x="779" y="338" width="1" height="21" fill="#000"/>
<rect x="777" y="349" width="5" height="5" fill="#000"/>
<rect x="787" y="313" width="1" height="40" fill="#000"/>
<rect x="785" y="339" width="5" height="14" fill="#000"/>
<rect x="786" y="340" width="3" height="12" fill="#fff"/>
<rect x="795" y="286" width="1" height="54" fill="#000"/>
<rect x="793" y="294" width="5" height="46" fill="#000"/>
<rect x="794" y="295" width="3" height="44" fill="#fff"/>
<rect x="803" y="270" width="1" height="27" fill="#000"/>
<rect x="801" y="287" width="5" height="8" fill="#000"/>
<rect x="802" y="288" width="3" height="6" fill="#fff"/>
<rect x="811" y="278" width="1" height="6" fill="#000"/>
<rect x="809" y="281" width="5" height="1" fill="#000"/>
<rect x="819" y="266" width="1" height="29" fill="#000"/>
<rect x="817" y="281" width="5" height="8" fill="#000"/>
<rect x="827" y="270" width="1" height="34" fill="#000"/>
<rect x="825" y="277" width="5" height="12" fill="#000"/>
<rect x="826" y="278" width="3" height="10" fill="#fff"/>
<rect x="835" y="266" width="1" height="22" fill="#000"/>
<rect x="833" y="271" width="5" height="7" fill="#000"/>
<rect x="834" y="272" width="3" height="5" fill="#fff"/>
<rect x="843" y="235" width="1" height="38" fill="#000"/>
<rect x="841" y="248" width="5" height="24" fill="#000"/>
<rect x="842" y="249" width="3" height="22" fill="#fff"/>
<rect x="851" y="244" width="1" height="22" fill="#000"/>
<rect x="849" y="248" width="5" height="1" fill="#000"/>
<rect x="859" y="252" width="1" height="12" fill="#000"/>
<rect x="857" y="255" width="5" height="9" fill="#000"/>
<rect x="867" y="254" width="1" height="73" fill="#000"/>
<rect x="865" y="262" width="5" height="7" fill="#000"/>
<rect x="875" y="264" width="1" height="34" fill="#000"/>
<rect x="873" y="267" width="5" height="14" fill="#000"/>
<rect x="883" y="260" width="1" height="33" fill="#000"/>
<rect x="881" y="264" width="5" height="17" fill="#000"/>
<rect x="882" y="265" width="3" height="15" fill="#fff"/>
<rect x="891" y="252" width="1" height="15" fill="#000"/>
<rect x="889" y="262" width="5" height="5" fill="#000"/>
<rect x="890" y="263" width="3" height="3" fill="#fff"/>
<rect x="899" y="249" width="1" height="10" fill="#000"/>
<rect x="897" y="250" width="5" height="9" fill="#000"/>
<rect x="898" y="251" width="3" height="7" fill="#fff"/>
<rect x="907" y="245" width="1" height="34" fill="#000"/>
<rect x="905" y="250" width="5" height="13" fill="#000"/>
<rect x="915" y="243" width="1" height="22" fill="#000"/>
<rect x="913" y="250" width="5" height="13" fill="#000"/>
<rect x="914" y="251" width="3" height="11" fill="#fff"/>
<rect x="923" y="211" width="1" height="42" fill="#000"/>
<rect x="921" y="211" width="5" height="42" fill="#000"/>
<rect x="922" y="212" width="3" height="40" fill="#fff"/>
<rect x="931" y="184" width="1" height="30" fill="#000"/>
<rect x="929" y="209" width="5" height="4" fill="#000"/>
<rect x="930" y="210" width="3" height="2" fill="#fff"/>
<rect x="939" y="198" width="1" height="14" fill="#000"/>
<rect x="937" y="200" width="5" height="9" fill="#000"/>
<rect x="938" y="201" width="3" height="7" fill="#fff"/>
<rect x="947" y="184" width="1" height="51" fill="#000"/>
<rect x="945" y="200" width="5" height="22" fill="#000"/>
<rect x="955" y="166" width="1" height="61" fill="#000"/>
<rect x="953" y="173" width="5" height="49" fill="#000"/>
<rect x="954" y="174" width="3" height="47" fill="#fff"/>
<rect x="963" y="143" width="1" height="46" fill="#000"/>
<rect x="961" y="147" width="5" height="28" fill="#000"/>
<rect x="962" y="148" width="3" height="26" fill="#fff"/>
<rect x="971" y="146" width="1" height="48" fill="#000"/>
<rect x="969" y="147" width="5" height="24" fill="#000"/>
<rect x="979" y="155" width="1" height="38" fill="#000"/>
<rect x="977" y="170" width="5" height="12" fill="#000"/>
<rect x="987" y="176" width="1" height="25" fill="#000"/>
<rect x="985" y="177" width="5" height="20" fill="#000"/>
<rect x="995" y="189" width="1" height="34" fill="#000"/>
<rect x="993" y="193" width="5" height="10" fill="#000"/>
<rect x="1003" y="166" width="1" height="48" fill="#000"/>
<rect x="1001" y="167" width="5" height="35" fill="#000"/>
<rect x="1002" y="168" width="3" height="33" fill="#fff"/>
<rect x="1011" y="164" width="1" height="32" fill="#000"/>
<rect x="1009" y="167" width="5" height="17" fill="#000"/>
<rect x="1019" y="152" width="1" height="41" fill="#000"/>
<rect x="1017" y="167" width="5" height="16" fill="#000"/>
<rect x="1018" y="168" width="3" height="14" fill="#fff"/>
<rect x="1027" y="160" width="1" height="56" fill="#000"/>
<rect x="1025" y="167" width="5" height="36" fill="#000"/>
<rect x="1035" y="200" width="1" height="15" fill="#000"/>
<rect x="1033" y="201" width="5" height="14" fill="#000"/>
<rect x="1043" y="203" width="1" height="25" fill="#000"/>
<rect x="1041" y="212" width="5" height="3" fill="#000"/>
<rect x="1051" y="192" width="1" height="23" fill="#000"/>
<rect x="1049" y="198" width="5" height="17" fill="#000"/>
<rect x="1050" y="199" width="3" height="15" fill="#fff"/>
<rect x="1059" y="173" width="1" height="34" fill="#000"/>
<rect x="1057" y="177" width="5" height="22" fill="#000"/>
<rect x="1058" y="178" width="3" height="20" fill="#fff"/>
<rect x="1067" y="164" width="1" height="22" fill="#000"/>
<rect x="1065" y="175" width="5" height="4" fill="#000"/>
<rect x="1066" y="176" width="3" height="2" fill="#fff"/>
<rect x="1075" y="170" width="1" height="36" fill="#000"/>
<rect x="1073" y="175" width="5" height="23" fill="#000"/>
<rect x="1083" y="194" width="1" height="9" fill="#000"/>
<rect x="1081" y="198" width="5" height="4" fill="#000"/>
<rect x="1082" y="199" width="3" height="2" fill="#fff"/>
<rect x="1091" y="181" width="1" height="35" fill="#000"/>
<rect x="1089" y="198" width="5" height="1" fill="#000"/>
<rect x="1099" y="178" width="1" height="44" fill="#000"/>
<rect x="1097" y="178" width="5" height="21" fill="#000"/>
<rect x="1098" y="179" width="3" height="19" fill="#fff"/>
<rect x="1107" y="173" width="1" height="63" fill="#000"/>
<rect x="1105" y="178" width="5" height="55" fill="#000"/>
<rect x="1115" y="206" width="1" height="55" fill="#000"/>
<rect x="1113" y="221" width="5" height="10" fill="#000"/>
<rect x="1114" y="222" width="3" height="8" fill="#fff"/>
<rect x="1123" y="203" width="1" height="39" fill="#000"/>
<rect x="1121" y="220" width="5" height="18" fill="#000"/>
<rect x="1131" y="241" width="1" height="14" fill="#000"/>
<rect x="1129" y="242" width="5" height="5" fill="#000"/>
<rect x="1139" y="224" width="1" height="26" fill="#000"/>
<rect x="1137" y="240" width="5" height="6" fill="#000"/>
<rect x="1138" y="241" width="3" height="4" fill="#fff"/>
<rect x="1147" y="224" width="1" height="51" fill="#000"/>
<rect x="1145" y="239" width="5" height="16" fill="#000"/>
<rect x="1155" y="237" width="1" height="20" fill="#000"/>
<rect x="1153" y="238" width="5" height="15" fill="#000"/>
<rect x="1154" y="239" width="3" height="13" fill="#fff"/>
<rect x="1163" y="231" width="1" height="32" fill="#000"/>
<rect x="1161" y="237" width="5" height="20" fill="#000"/>
<rect x="1171" y="220" width="1" height="46" fill="#000"/>
<rect x="1169" y="222" width="5" height="35" fill="#000"/>
<rect x="1170" y="223" width="3" height="33" fill="#fff"/>
<rect x="1179" y="215" width="1" height="6" fill="#000"/>
<rect x="1177" y="217" width="5" height="4" fill="#000"/>
<rect x="1178" y="218" width="3" height="2" fill="#fff"/>
<rect x="1187" y="197" width="1" height="35" fill="#000"/>
<rect x="1185" y="201" width="5" height="16" fill="#000"/>
<rect x="1186" y="202" width="3" height="14" fill="#fff"/>
<rect x="1195" y="183" width="1" height="22" fill="#000"/>
<rect x="1193" y="186" width="5" height="17" fill="#000"/>
<rect x="1194" y="187" width="3" height="15" fill="#fff"/>
<rect x="1203" y="177" width="1" height="21" fill="#000"/>
<rect x="1201" y="186" width="5" height="9" fill="#000"/>
<rect x="1211" y="169" width="1" height="31" fill="#000"/>
<rect x="1209" y="179" width="5" height="16" fill="#000"/>
<rect x="1210" y="180" width="3" height="14" fill="#fff"/>
<rect x="1219" y="172" width="1" height="25" fill="#000"/>
<rect x="1217" y="177" width="5" height="3" fill="#000"/>
<rect x="1218" y="178" width="3" height="1" fill="#fff"/>
<rect x="1227" y="172" width="1" height="4" fill="#000"/>
<rect x="1225" y="173" width="5" height="3" fill="#000"/>
<rect x="1226" y="174" width="3" height="1" fill="#fff"/>
<rect x="1235" y="160" width="1" height="16" fill="#000"/>
<rect x="1233" y="162" width="5" height="12" fill="#000"/>
<rect x="1234" y="163" width="3" height="10" fill="#fff"/>
<rect x="1243" y="152" width="1" height="40" fill="#000"/>
<rect x="1241" y="162" width="5" height="27" fill="#000"/>
<rect x="1251" y="169" width="1" height="26" fill="#000"/>
<rect x="1249" y="176" width="5" height="12" fill="#000"/>
<rect x="1250" y="177" width="3" height="10" fill="#fff"/>
<rect x="1259" y="160" width="1" height="31" fill="#000"/>
<rect x="1257" y="172" width="5" height="5" fill="#000"/>
<rect x="1258" y="173" width="3" height="3" fill="#fff"/>
<rect x="1267" y="116" width="1" height="62" fill="#000"/>
<rect x="1265" y="122" width="5" height="51" fill="#000"/>
<rect x="1266" y="123" width="3" height="49" fill="#fff"/>
<rect x="1275" y="108" width="1" height="15" fill="#000"/>
<rect x="1273" y="114" width="5" height="7" fill="#000"/>
<rect x="1274" y="115" width="3" height="5" fill="#fff"/>
<rect x="1283" y="89" width="1" height="40" fill="#000"/>
<rect x="1281" y="97" width="5" height="18" fill="#000"/>
<rect x="1282" y="98" width="3" height="16" fill="#fff"/>
<rect x="1291" y="87" width="1" height="29" fill="#000"/>
<rect x="1289" y="97" width="5" height="6" fill="#000"/>
<rect x="1299" y="65" width="1" height="44" fill="#000"/>
<rect x="1297" y="66" width="5" height="35" fill="#000"/>
<rect x="1298" y="67" width="3" height="33" fill="#fff"/>
<rect x="1307" y="50" width="1" height="77" fill="#000"/>
<rect x="1305" y="67" width="5" height="58" fill="#000"/>
<rect x="1315" y="119" width="1" height="84" fill="#000"/>
<rect x="1313" y="122" width="5" height="81" fill="#000"/>
<rect x="1323" y="175" width="1" height="26" fill="#000"/>
<rect x="1321" y="179" width="5" height="19" fill="#000"/>
<rect x="1322" y="180" width="3" height="17" fill="#fff"/>
<rect x="1331" y="161" width="1" height="35" fill="#000"/>
<rect x="1329" y="173" width="5" height="6" fill="#000"/>
<rect x="1330" y="174" width="3" height="4" fill="#fff"/>
<rect x="1339" y="136" width="1" height="53" fill="#000"/>
<rect x="1337" y="142" width="5" height="26" fill="#000"/>
<rect x="1338" y="143" width="3" height="24" fill="#fff"/>
<rect x="1347" y="135" width="1" height="46" fill="#000"/>
<rect x="1345" y="143" width="5" height="37" fill="#000"/>
<rect x="1355" y="147" width="1" height="58" fill="#000"/>
<rect x="1353" y="178" width="5" height="22" fill="#000"/>
<rect x="1363" y="192" width="1" height="54" fill="#000"/>
<rect x="1361" y="198" width="5" height="15" fill="#000"/>
<rect x="1371" y="194" width="1" height="15" fill="#000"/>
<rect x="1369" y="202" width="5" height="6" fill="#000"/>
<rect x="1370" y="203" width="3" height="4" fill="#fff"/>
<rect x="1379" y="198" width="1" height="37" fill="#000"/>
<rect x="1377" y="201" width="5" height="27" fill="#000"/>
<rect x="1387" y="192" width="1" height="41" fill="#000"/>
<rect x="1385" y="198" width="5" height="30" fill="#000"/>
<rect x="1386" y="199" width="3" height="28" fill="#fff"/>
<rect x="1395" y="182" width="1" height="40" fill="#000"/>
<rect x="1393" y="190" width="5" height="8" fill="#000"/>
<rect x="1394" y="191" width="3" height="6" fill="#fff"/>
<rect x="1403" y="158" width="1" height="36" fill="#000"/>
<rect x="1401" y="158" width="5" height="32" fill="#000"/>
<rect x="1402" y="159" width="3" height="30" fill="#fff"/>
</g>
<rect x="1275" y="167" width="187" height="6" fill="#00ff00" shape-rendering="crispEdges"/>
<g shape-rendering="crispEdges" stroke="#ff0000" stroke-width="3.5" fill="none" stroke-linecap="round" stroke-linejoin="round"><line x1="1304.5" y1="66" x2="1317.6" y2="202.5"/><polyline points="1321.4,191.7 1317.6,202.5 1311.8,192.6"/></g>
<polygon shape-rendering="crispEdges" points="1317.6,202.5 1317.2,194.7 1316.5,194.8" fill="#ff0000"/>
<g shape-rendering="crispEdges" stroke="#ff0000" stroke-width="3.5" fill="none" stroke-linecap="round" stroke-linejoin="round"><line x1="1317.6" y1="202.5" x2="1344.8" y2="139"/><polyline points="1336.2,146.7 1344.8,139 1345.2,150.5"/></g>
<polygon shape-rendering="crispEdges" points="1344.8,139 1341.4,146.0 1342.1,146.3" fill="#ff0000"/>
<g shape-rendering="crispEdges" stroke="#ff0000" stroke-width="3.5" fill="none" stroke-linecap="round" stroke-linejoin="round"><line x1="1344.8" y1="139" x2="1386.6" y2="243"/><polyline points="1387.2,231.5 1386.6,243 1378.2,235.1"/></g>
<polygon shape-rendering="crispEdges" points="1386.6,243 1384.0,235.6 1383.3,235.9" fill="#ff0000"/>
<g shape-rendering="crispEdges" stroke="#ff0000" stroke-width="3.5" fill="none" stroke-linecap="round" stroke-linejoin="round"><line x1="1386.6" y1="243" x2="1428" y2="146.5"/><polyline points="1419.4,154.2 1428,146.5 1428.4,158.0"/></g>
<polygon shape-rendering="crispEdges" points="1428,146.5 1424.6,153.5 1425.3,153.8" fill="#ff0000"/>
<g shape-rendering="crispEdges" stroke="#ff0000" stroke-width="3.5" fill="none" stroke-linecap="round" stroke-linejoin="round"><line x1="1293" y1="611" x2="1398" y2="703"/><polyline points="1393.4,692.5 1398,703 1387.0,699.8"/></g>
<polygon shape-rendering="crispEdges" points="1398,703 1392.4,697.6 1391.9,698.1" fill="#ff0000"/>
<g shape-rendering="crispEdges" stroke="#ff0000" stroke-width="3.5" fill="none" stroke-linecap="round" stroke-linejoin="round"><line x1="1398" y1="703" x2="1416" y2="691"/><polyline points="1404.6,692.7 1416,691 1410.0,700.8"/></g>
<polygon shape-rendering="crispEdges" points="1416,691 1409.3,695.0 1409.7,695.6" fill="#ff0000"/>
<g shape-rendering="crispEdges" stroke="#ff0000" stroke-width="3.5" fill="none" stroke-linecap="round" stroke-linejoin="round"><line x1="1285" y1="803" x2="1381" y2="856"/><polyline points="1374.2,846.7 1381,856 1369.5,855.2"/></g>
<polygon shape-rendering="crispEdges" points="1381,856 1374.3,851.9 1374.0,852.5" fill="#ff0000"/>
<g shape-rendering="crispEdges" stroke="#ff0000" stroke-width="3.5" fill="none" stroke-linecap="round" stroke-linejoin="round"><line x1="1381" y1="856" x2="1429.5" y2="829.5"/><polyline points="1418.0,830.2 1429.5,829.5 1422.7,838.8"/></g>
<polygon shape-rendering="crispEdges" points="1429.5,829.5 1422.5,832.9 1422.8,833.6" fill="#ff0000"/>
<text x="1500.5" y="219.6" fill="#00ff00" text-anchor="start" style="font-size:20.3px;letter-spacing:1.5px;font-weight:300;" font-family='"Liberation Sans", "Noto Sans CJK SC", sans-serif' >多空转折点</text>
<polygon points="-1,34.5 5,34.5 2,30" fill="#000"/>
<text x="10.5" y="35" fill="#000" text-anchor="start" style="font-size:9.4px;" font-family='"Liberation Sans", Arial, sans-serif'  textLength="68.5" lengthAdjust="spacing" stroke="#000" stroke-width="0.12">AUDUSD-,Daily</text>
<text x="85" y="35" fill="#000" text-anchor="start" style="font-size:9.4px;" font-family='"Liberation Sans", Arial, sans-serif'  textLength="33.8" lengthAdjust="spacing" stroke="#000" stroke-width="0.12">0.77298</text>
<text x="121" y="35" fill="#000" text-anchor="start" style="font-size:9.4px;" font-family='"Liberation Sans", Arial, sans-serif'  textLength="33.8" lengthAdjust="spacing" stroke="#000" stroke-width="0.12">0.77928</text>
<text x="157" y="35" fill="#000" text-anchor="start" style="font-size:9.4px;" font-family='"Liberation Sans", Arial, sans-serif'  textLength="33.8" lengthAdjust="spacing" stroke="#000" stroke-width="0.12">0.77223</text>
<text x="192.5" y="35" fill="#000" text-anchor="start" style="font-size:9.4px;" font-family='"Liberation Sans", Arial, sans-serif'  textLength="33.8" lengthAdjust="spacing" stroke="#000" stroke-width="0.12">0.77916</text>
<g shape-rendering="crispEdges">
<rect x="1674" y="45" width="2" height="1" fill="#000"/>
<rect x="1674" y="78" width="2" height="1" fill="#000"/>
<rect x="1674" y="111" width="2" height="1" fill="#000"/>
<rect x="1674" y="144" width="2" height="1" fill="#000"/>
<rect x="1674" y="177" width="2" height="1" fill="#000"/>
<rect x="1674" y="210" width="2" height="1" fill="#000"/>
<rect x="1674" y="243" width="2" height="1" fill="#000"/>
<rect x="1674" y="276" width="2" height="1" fill="#000"/>
<rect x="1674" y="309" width="2" height="1" fill="#000"/>
<rect x="1674" y="342" width="2" height="1" fill="#000"/>
<rect x="1674" y="375" width="2" height="1" fill="#000"/>
<rect x="1674" y="408" width="2" height="1" fill="#000"/>
<rect x="1674" y="441" width="2" height="1" fill="#000"/>
<rect x="1674" y="474" width="2" height="1" fill="#000"/>
<rect x="1674" y="507" width="2" height="1" fill="#000"/>
<rect x="1674" y="540" width="2" height="1" fill="#000"/>
<rect x="1674" y="573" width="2" height="1" fill="#000"/>
</g>
<text x="1679" y="49" fill="#000" text-anchor="start" style="font-size:9.4px;letter-spacing:-0.05px;" font-family='"Liberation Sans", Arial, sans-serif'  stroke="#000" stroke-width="0.12">0.80155</text>
<text x="1679" y="82" fill="#000" text-anchor="start" style="font-size:9.4px;letter-spacing:-0.05px;" font-family='"Liberation Sans", Arial, sans-serif'  stroke="#000" stroke-width="0.12">0.79510</text>
<text x="1679" y="115" fill="#000" text-anchor="start" style="font-size:9.4px;letter-spacing:-0.05px;" font-family='"Liberation Sans", Arial, sans-serif'  stroke="#000" stroke-width="0.12">0.78850</text>
<text x="1679" y="148" fill="#000" text-anchor="start" style="font-size:9.4px;letter-spacing:-0.05px;" font-family='"Liberation Sans", Arial, sans-serif'  stroke="#000" stroke-width="0.12">0.78190</text>
<text x="1679" y="181" fill="#000" text-anchor="start" style="font-size:9.4px;letter-spacing:-0.05px;" font-family='"Liberation Sans", Arial, sans-serif'  stroke="#000" stroke-width="0.12">0.77545</text>
<text x="1679" y="214" fill="#000" text-anchor="start" style="font-size:9.4px;letter-spacing:-0.05px;" font-family='"Liberation Sans", Arial, sans-serif'  stroke="#000" stroke-width="0.12">0.76885</text>
<text x="1679" y="247" fill="#000" text-anchor="start" style="font-size:9.4px;letter-spacing:-0.05px;" font-family='"Liberation Sans", Arial, sans-serif'  stroke="#000" stroke-width="0.12">0.76240</text>
<text x="1679" y="280" fill="#000" text-anchor="start" style="font-size:9.4px;letter-spacing:-0.05px;" font-family='"Liberation Sans", Arial, sans-serif'  stroke="#000" stroke-width="0.12">0.75580</text>
<text x="1679" y="313" fill="#000" text-anchor="start" style="font-size:9.4px;letter-spacing:-0.05px;" font-family='"Liberation Sans", Arial, sans-serif'  stroke="#000" stroke-width="0.12">0.74920</text>
<text x="1679" y="346" fill="#000" text-anchor="start" style="font-size:9.4px;letter-spacing:-0.05px;" font-family='"Liberation Sans", Arial, sans-serif'  stroke="#000" stroke-width="0.12">0.74275</text>
<text x="1679" y="379" fill="#000" text-anchor="start" style="font-size:9.4px;letter-spacing:-0.05px;" font-family='"Liberation Sans", Arial, sans-serif'  stroke="#000" stroke-width="0.12">0.73615</text>
<text x="1679" y="412" fill="#000" text-anchor="start" style="font-size:9.4px;letter-spacing:-0.05px;" font-family='"Liberation Sans", Arial, sans-serif'  stroke="#000" stroke-width="0.12">0.72955</text>
<text x="1679" y="445" fill="#000" text-anchor="start" style="font-size:9.4px;letter-spacing:-0.05px;" font-family='"Liberation Sans", Arial, sans-serif'  stroke="#000" stroke-width="0.12">0.72310</text>
<text x="1679" y="478" fill="#000" text-anchor="start" style="font-size:9.4px;letter-spacing:-0.05px;" font-family='"Liberation Sans", Arial, sans-serif'  stroke="#000" stroke-width="0.12">0.71650</text>
<text x="1679" y="511" fill="#000" text-anchor="start" style="font-size:9.4px;letter-spacing:-0.05px;" font-family='"Liberation Sans", Arial, sans-serif'  stroke="#000" stroke-width="0.12">0.70990</text>
<text x="1679" y="544" fill="#000" text-anchor="start" style="font-size:9.4px;letter-spacing:-0.05px;" font-family='"Liberation Sans", Arial, sans-serif'  stroke="#000" stroke-width="0.12">0.70345</text>
<text x="1679" y="577" fill="#000" text-anchor="start" style="font-size:9.4px;letter-spacing:-0.05px;" font-family='"Liberation Sans", Arial, sans-serif'  stroke="#000" stroke-width="0.12">0.69685</text>
<rect x="1675" y="115" width="41" height="11" fill="#ff0000" shape-rendering="crispEdges"/>
<text x="1679" y="124" fill="#fff" text-anchor="start" style="font-size:9.4px;letter-spacing:-0.05px;" font-family='"Liberation Sans", Arial, sans-serif' >0.78669</text>
<rect x="1675" y="133" width="41" height="11" fill="#ff0000" shape-rendering="crispEdges"/>
<text x="1679" y="142" fill="#fff" text-anchor="start" style="font-size:9.4px;letter-spacing:-0.05px;" font-family='"Liberation Sans", Arial, sans-serif' >0.78313</text>
<rect x="1675" y="153" width="41" height="11" fill="#000000" shape-rendering="crispEdges"/>
<text x="1679" y="162" fill="#fff" text-anchor="start" style="font-size:9.4px;letter-spacing:-0.05px;" font-family='"Liberation Sans", Arial, sans-serif' >0.77916</text>
<rect x="1675" y="165" width="41" height="11" fill="#00ced1" shape-rendering="crispEdges"/>
<text x="1679" y="174" fill="#fff" text-anchor="start" style="font-size:9.4px;letter-spacing:-0.05px;" font-family='"Liberation Sans", Arial, sans-serif' >0.77679</text>
<rect x="1675" y="183" width="41" height="11" fill="#ff0000" shape-rendering="crispEdges"/>
<text x="1679" y="192" fill="#fff" text-anchor="start" style="font-size:9.4px;letter-spacing:-0.05px;" font-family='"Liberation Sans", Arial, sans-serif' >0.77323</text>
<rect x="1675" y="201" width="41" height="11" fill="#ff0000" shape-rendering="crispEdges"/>
<text x="1679" y="210" fill="#fff" text-anchor="start" style="font-size:9.4px;letter-spacing:-0.05px;" font-family='"Liberation Sans", Arial, sans-serif' >0.76966</text>
<text x="-0.3" y="591.2" fill="#000" text-anchor="start" style="font-size:9.4px;" font-family='"Liberation Sans", Arial, sans-serif'  textLength="150.6" lengthAdjust="spacing" stroke="#000" stroke-width="0.12">MACD(12,26,9) -0.000516 0.000443</text>
<g shape-rendering="crispEdges">
<rect x="3" y="640" width="1" height="47" fill="#c0c0c0"/>
<rect x="11" y="635" width="1" height="52" fill="#c0c0c0"/>
<rect x="19" y="639" width="1" height="48" fill="#c0c0c0"/>
<rect x="27" y="641" width="1" height="46" fill="#c0c0c0"/>
<rect x="35" y="646" width="1" height="41" fill="#c0c0c0"/>
<rect x="43" y="651" width="1" height="36" fill="#c0c0c0"/>
<rect x="51" y="655" width="1" height="32" fill="#c0c0c0"/>
<rect x="59" y="655" width="1" height="32" fill="#c0c0c0"/>
<rect x="67" y="652" width="1" height="35" fill="#c0c0c0"/>
<rect x="75" y="647" width="1" height="40" fill="#c0c0c0"/>
<rect x="83" y="636" width="1" height="51" fill="#c0c0c0"/>
<rect x="91" y="626" width="1" height="61" fill="#c0c0c0"/>
<rect x="99" y="618" width="1" height="69" fill="#c0c0c0"/>
<rect x="107" y="613" width="1" height="74" fill="#c0c0c0"/>
<rect x="115" y="615" width="1" height="72" fill="#c0c0c0"/>
<rect x="123" y="624" width="1" height="63" fill="#c0c0c0"/>
<rect x="131" y="627" width="1" height="60" fill="#c0c0c0"/>
<rect x="139" y="632" width="1" height="55" fill="#c0c0c0"/>
<rect x="147" y="637" width="1" height="50" fill="#c0c0c0"/>
<rect x="155" y="648" width="1" height="39" fill="#c0c0c0"/>
<rect x="163" y="650" width="1" height="37" fill="#c0c0c0"/>
<rect x="171" y="654" width="1" height="33" fill="#c0c0c0"/>
<rect x="179" y="656" width="1" height="31" fill="#c0c0c0"/>
<rect x="187" y="658" width="1" height="29" fill="#c0c0c0"/>
<rect x="195" y="659" width="1" height="28" fill="#c0c0c0"/>
<rect x="203" y="659" width="1" height="28" fill="#c0c0c0"/>
<rect x="211" y="660" width="1" height="27" fill="#c0c0c0"/>
<rect x="219" y="659" width="1" height="28" fill="#c0c0c0"/>
<rect x="227" y="659" width="1" height="28" fill="#c0c0c0"/>
<rect x="235" y="661" width="1" height="26" fill="#c0c0c0"/>
<rect x="243" y="668" width="1" height="19" fill="#c0c0c0"/>
<rect x="251" y="680" width="1" height="7" fill="#c0c0c0"/>
<rect x="259" y="686" width="1" height="13" fill="#c0c0c0"/>
<rect x="267" y="686" width="1" height="28" fill="#c0c0c0"/>
<rect x="275" y="686" width="1" height="43" fill="#c0c0c0"/>
<rect x="283" y="686" width="1" height="53" fill="#c0c0c0"/>
<rect x="291" y="686" width="1" height="55" fill="#c0c0c0"/>
<rect x="299" y="686" width="1" height="51" fill="#c0c0c0"/>
<rect x="307" y="686" width="1" height="45" fill="#c0c0c0"/>
<rect x="315" y="686" width="1" height="39" fill="#c0c0c0"/>
<rect x="323" y="686" width="1" height="36" fill="#c0c0c0"/>
<rect x="331" y="686" width="1" height="32" fill="#c0c0c0"/>
<rect x="339" y="686" width="1" height="25" fill="#c0c0c0"/>
<rect x="347" y="686" width="1" height="29" fill="#c0c0c0"/>
<rect x="355" y="686" width="1" height="29" fill="#c0c0c0"/>
<rect x="363" y="686" width="1" height="23" fill="#c0c0c0"/>
<rect x="371" y="686" width="1" height="16" fill="#c0c0c0"/>
<rect x="379" y="686" width="1" height="9" fill="#c0c0c0"/>
<rect x="387" y="686" width="1" height="5" fill="#c0c0c0"/>
<rect x="395" y="686" width="1" height="7" fill="#c0c0c0"/>
<rect x="403" y="686" width="1" height="9" fill="#c0c0c0"/>
<rect x="411" y="686" width="1" height="16" fill="#c0c0c0"/>
<rect x="419" y="686" width="1" height="23" fill="#c0c0c0"/>
<rect x="427" y="686" width="1" height="25" fill="#c0c0c0"/>
<rect x="435" y="686" width="1" height="32" fill="#c0c0c0"/>
<rect x="443" y="686" width="1" height="37" fill="#c0c0c0"/>
<rect x="451" y="686" width="1" height="35" fill="#c0c0c0"/>
<rect x="459" y="686" width="1" height="31" fill="#c0c0c0"/>
<rect x="467" y="686" width="1" height="27" fill="#c0c0c0"/>
<rect x="475" y="686" width="1" height="24" fill="#c0c0c0"/>
<rect x="483" y="686" width="1" height="23" fill="#c0c0c0"/>
<rect x="491" y="686" width="1" height="21" fill="#c0c0c0"/>
<rect x="499" y="686" width="1" height="25" fill="#c0c0c0"/>
<rect x="507" y="686" width="1" height="30" fill="#c0c0c0"/>
<rect x="515" y="686" width="1" height="35" fill="#c0c0c0"/>
<rect x="523" y="686" width="1" height="39" fill="#c0c0c0"/>
<rect x="531" y="686" width="1" height="39" fill="#c0c0c0"/>
<rect x="539" y="686" width="1" height="23" fill="#c0c0c0"/>
<rect x="547" y="686" width="1" height="14" fill="#c0c0c0"/>
<rect x="563" y="672" width="1" height="15" fill="#c0c0c0"/>
<rect x="571" y="661" width="1" height="26" fill="#c0c0c0"/>
<rect x="579" y="652" width="1" height="35" fill="#c0c0c0"/>
<rect x="587" y="646" width="1" height="41" fill="#c0c0c0"/>
<rect x="595" y="642" width="1" height="45" fill="#c0c0c0"/>
<rect x="603" y="643" width="1" height="44" fill="#c0c0c0"/>
<rect x="611" y="642" width="1" height="45" fill="#c0c0c0"/>
<rect x="619" y="639" width="1" height="48" fill="#c0c0c0"/>
<rect x="627" y="635" width="1" height="52" fill="#c0c0c0"/>
<rect x="635" y="634" width="1" height="53" fill="#c0c0c0"/>
<rect x="643" y="634" width="1" height="53" fill="#c0c0c0"/>
<rect x="651" y="638" width="1" height="49" fill="#c0c0c0"/>
<rect x="659" y="637" width="1" height="50" fill="#c0c0c0"/>
<rect x="667" y="636" width="1" height="51" fill="#c0c0c0"/>
<rect x="675" y="638" width="1" height="49" fill="#c0c0c0"/>
<rect x="683" y="634" width="1" height="53" fill="#c0c0c0"/>
<rect x="691" y="631" width="1" height="56" fill="#c0c0c0"/>
<rect x="699" y="630" width="1" height="57" fill="#c0c0c0"/>
<rect x="707" y="627" width="1" height="60" fill="#c0c0c0"/>
<rect x="715" y="625" width="1" height="62" fill="#c0c0c0"/>
<rect x="723" y="627" width="1" height="60" fill="#c0c0c0"/>
<rect x="731" y="628" width="1" height="59" fill="#c0c0c0"/>
<rect x="739" y="626" width="1" height="61" fill="#c0c0c0"/>
<rect x="747" y="623" width="1" height="64" fill="#c0c0c0"/>
<rect x="755" y="621" width="1" height="66" fill="#c0c0c0"/>
<rect x="763" y="621" width="1" height="66" fill="#c0c0c0"/>
<rect x="771" y="623" width="1" height="64" fill="#c0c0c0"/>
<rect x="779" y="626" width="1" height="61" fill="#c0c0c0"/>
<rect x="787" y="627" width="1" height="60" fill="#c0c0c0"/>
<rect x="795" y="620" width="1" height="67" fill="#c0c0c0"/>
<rect x="803" y="614" width="1" height="73" fill="#c0c0c0"/>
<rect x="811" y="609" width="1" height="78" fill="#c0c0c0"/>
<rect x="819" y="607" width="1" height="80" fill="#c0c0c0"/>
<rect x="827" y="605" width="1" height="82" fill="#c0c0c0"/>
<rect x="835" y="602" width="1" height="85" fill="#c0c0c0"/>
<rect x="843" y="597" width="1" height="90" fill="#c0c0c0"/>
<rect x="851" y="594" width="1" height="93" fill="#c0c0c0"/>
<rect x="859" y="596" width="1" height="91" fill="#c0c0c0"/>
<rect x="867" y="599" width="1" height="88" fill="#c0c0c0"/>
<rect x="875" y="605" width="1" height="82" fill="#c0c0c0"/>
<rect x="883" y="607" width="1" height="80" fill="#c0c0c0"/>
<rect x="891" y="610" width="1" height="77" fill="#c0c0c0"/>
<rect x="899" y="610" width="1" height="77" fill="#c0c0c0"/>
<rect x="907" y="614" width="1" height="73" fill="#c0c0c0"/>
<rect x="915" y="615" width="1" height="72" fill="#c0c0c0"/>
<rect x="923" y="610" width="1" height="77" fill="#c0c0c0"/>
<rect x="931" y="606" width="1" height="81" fill="#c0c0c0"/>
<rect x="939" y="603" width="1" height="84" fill="#c0c0c0"/>
<rect x="947" y="605" width="1" height="82" fill="#c0c0c0"/>
<rect x="955" y="598" width="1" height="89" fill="#c0c0c0"/>
<rect x="963" y="590" width="1" height="97" fill="#c0c0c0"/>
<rect x="971" y="588" width="1" height="99" fill="#c0c0c0"/>
<rect x="979" y="590" width="1" height="97" fill="#c0c0c0"/>
<rect x="987" y="595" width="1" height="92" fill="#c0c0c0"/>
<rect x="995" y="602" width="1" height="85" fill="#c0c0c0"/>
<rect x="1003" y="601" width="1" height="86" fill="#c0c0c0"/>
<rect x="1011" y="604" width="1" height="83" fill="#c0c0c0"/>
<rect x="1019" y="605" width="1" height="82" fill="#c0c0c0"/>
<rect x="1027" y="613" width="1" height="74" fill="#c0c0c0"/>
<rect x="1035" y="622" width="1" height="65" fill="#c0c0c0"/>
<rect x="1043" y="630" width="1" height="57" fill="#c0c0c0"/>
<rect x="1051" y="635" width="1" height="52" fill="#c0c0c0"/>
<rect x="1059" y="634" width="1" height="53" fill="#c0c0c0"/>
<rect x="1067" y="635" width="1" height="52" fill="#c0c0c0"/>
<rect x="1075" y="639" width="1" height="48" fill="#c0c0c0"/>
<rect x="1083" y="644" width="1" height="43" fill="#c0c0c0"/>
<rect x="1091" y="648" width="1" height="39" fill="#c0c0c0"/>
<rect x="1099" y="648" width="1" height="39" fill="#c0c0c0"/>
<rect x="1107" y="658" width="1" height="29" fill="#c0c0c0"/>
<rect x="1115" y="664" width="1" height="23" fill="#c0c0c0"/>
<rect x="1123" y="672" width="1" height="15" fill="#c0c0c0"/>
<rect x="1131" y="680" width="1" height="7" fill="#c0c0c0"/>
<rect x="1147" y="686" width="1" height="6" fill="#c0c0c0"/>
<rect x="1155" y="686" width="1" height="9" fill="#c0c0c0"/>
<rect x="1163" y="686" width="1" height="14" fill="#c0c0c0"/>
<rect x="1171" y="686" width="1" height="11" fill="#c0c0c0"/>
<rect x="1179" y="686" width="1" height="8" fill="#c0c0c0"/>
<rect x="1195" y="682" width="1" height="5" fill="#c0c0c0"/>
<rect x="1203" y="678" width="1" height="9" fill="#c0c0c0"/>
<rect x="1211" y="672" width="1" height="15" fill="#c0c0c0"/>
<rect x="1219" y="668" width="1" height="19" fill="#c0c0c0"/>
<rect x="1227" y="664" width="1" height="23" fill="#c0c0c0"/>
<rect x="1235" y="659" width="1" height="28" fill="#c0c0c0"/>
<rect x="1243" y="660" width="1" height="27" fill="#c0c0c0"/>
<rect x="1251" y="659" width="1" height="28" fill="#c0c0c0"/>
<rect x="1259" y="657" width="1" height="30" fill="#c0c0c0"/>
<rect x="1267" y="647" width="1" height="40" fill="#c0c0c0"/>
<rect x="1275" y="639" width="1" height="48" fill="#c0c0c0"/>
<rect x="1283" y="629" width="1" height="58" fill="#c0c0c0"/>
<rect x="1291" y="623" width="1" height="64" fill="#c0c0c0"/>
<rect x="1299" y="613" width="1" height="74" fill="#c0c0c0"/>
<rect x="1307" y="616" width="1" height="71" fill="#c0c0c0"/>
<rect x="1315" y="634" width="1" height="53" fill="#c0c0c0"/>
<rect x="1323" y="644" width="1" height="43" fill="#c0c0c0"/>
<rect x="1331" y="651" width="1" height="36" fill="#c0c0c0"/>
<rect x="1339" y="654" width="1" height="33" fill="#c0c0c0"/>
<rect x="1347" y="661" width="1" height="26" fill="#c0c0c0"/>
<rect x="1355" y="669" width="1" height="18" fill="#c0c0c0"/>
<rect x="1363" y="680" width="1" height="7" fill="#c0c0c0"/>
<rect x="1379" y="686" width="1" height="9" fill="#c0c0c0"/>
<rect x="1387" y="686" width="1" height="7" fill="#c0c0c0"/>
<rect x="1395" y="686" width="1" height="9" fill="#c0c0c0"/>
<rect x="1403" y="686" width="1" height="7" fill="#c0c0c0"/>
</g>
<g shape-rendering="crispEdges">
<polyline points="-4.5,631.5 3.5,632.5 11.5,634.5 19.5,636.5 27.5,638.5 35.5,639.5 43.5,641.5 51.5,642.5 59.5,644.5 67.5,645.5 75.5,646.5 83.5,646.5 91.5,645.5 99.5,642.5 107.5,639.5 115.5,635.5 123.5,631.5 131.5,628.5 139.5,626.5 147.5,625.5 155.5,626.5 163.5,629.5 171.5,632.5 179.5,637.5 187.5,641.5 195.5,645.5 203.5,649.5 211.5,652.5 219.5,655.5 227.5,657.5 235.5,657.5 243.5,659.5 251.5,662.5 259.5,666.5 267.5,672.5 275.5,680.5 283.5,688.5 291.5,697.5 299.5,707.5 307.5,713.5 315.5,721.5 323.5,725.5 331.5,727.5 339.5,727.5 347.5,727.5 355.5,723.5 363.5,719.5 371.5,716.5 379.5,712.5 387.5,708.5 395.5,705.5 403.5,703.5 411.5,701.5 419.5,701.5 427.5,701.5 435.5,701.5 443.5,703.5 451.5,705.5 459.5,709.5 467.5,712.5 475.5,713.5 483.5,714.5 491.5,714.5 499.5,714.5 507.5,713.5 515.5,714.5 523.5,714.5 531.5,714.5 539.5,714.5 547.5,713.5 555.5,710.5 563.5,706.5 571.5,700.5 579.5,693.5 587.5,687.5 595.5,677.5 603.5,667.5 611.5,659.5 619.5,653.5 627.5,647.5 635.5,643.5 643.5,640.5 651.5,638.5 659.5,638.5 667.5,637.5 675.5,636.5 683.5,635.5 691.5,635.5 699.5,634.5 707.5,633.5 715.5,632.5 723.5,631.5 731.5,631.5 739.5,629.5 747.5,627.5 755.5,625.5 763.5,624.5 771.5,623.5 779.5,624.5 787.5,624.5 795.5,623.5 803.5,622.5 811.5,620.5 819.5,619.5 827.5,617.5 835.5,615.5 843.5,611.5 851.5,607.5 859.5,604.5 867.5,602.5 875.5,601.5 883.5,601.5 891.5,601.5 899.5,601.5 907.5,603.5 915.5,605.5 923.5,606.5 931.5,607.5 939.5,608.5 947.5,608.5 955.5,607.5 963.5,605.5 971.5,603.5 979.5,600.5 987.5,597.5 995.5,596.5 1003.5,596.5 1011.5,596.5 1019.5,596.5 1027.5,598.5 1035.5,601.5 1043.5,606.5 1051.5,611.5 1059.5,616.5 1067.5,619.5 1075.5,623.5 1083.5,627.5 1091.5,632.5 1099.5,636.5 1107.5,640.5 1115.5,644.5 1123.5,648.5 1131.5,652.5 1139.5,658.5 1147.5,664.5 1155.5,670.5 1163.5,676.5 1171.5,682.5 1179.5,686.5 1187.5,688.5 1195.5,690.5 1203.5,689.5 1211.5,688.5 1219.5,685.5 1227.5,682.5 1235.5,678.5 1243.5,674.5 1251.5,670.5 1259.5,666.5 1267.5,662.5 1275.5,658.5 1283.5,654.5 1291.5,648.5 1299.5,643.5 1307.5,638.5 1315.5,634.5 1323.5,633.5 1331.5,632.5 1339.5,632.5 1347.5,635.5 1355.5,639.5 1363.5,645.5 1371.5,654.5 1379.5,663.5 1387.5,671.5 1395.5,676.5 1403.5,678.5" fill="none" stroke="#ff0000" stroke-width="1" stroke-dasharray="3,3"/>
</g>
<g shape-rendering="crispEdges">
<rect x="1674" y="580" width="2" height="1" fill="#000"/>
<rect x="1674" y="686" width="2" height="1" fill="#000"/>
<rect x="1674" y="747" width="2" height="1" fill="#000"/>
</g>
<text x="1677" y="589.5" fill="#000" text-anchor="start" style="font-size:9.4px;" font-family='"Liberation Sans", Arial, sans-serif'  textLength="38.2" lengthAdjust="spacing" stroke="#000" stroke-width="0.12">0.009081</text>
<text x="1677" y="690.2" fill="#000" text-anchor="start" style="font-size:9.4px;" font-family='"Liberation Sans", Arial, sans-serif'  textLength="18.3" lengthAdjust="spacing" stroke="#000" stroke-width="0.12">0.00</text>
<text x="1677" y="745.5" fill="#000" text-anchor="start" style="font-size:9.4px;" font-family='"Liberation Sans", Arial, sans-serif'  textLength="41.6" lengthAdjust="spacing" stroke="#000" stroke-width="0.12">-0.005306</text>
<text x="-0.3" y="763.2" fill="#000" text-anchor="start" style="font-size:9.4px;" font-family='"Liberation Sans", Arial, sans-serif'  textLength="67.6" lengthAdjust="spacing" stroke="#000" stroke-width="0.12">RSI(14) 53.5627</text>
<g shape-rendering="crispEdges">
<line x1="2" y1="786.5" x2="1672" y2="786.5" stroke="#b4b4b4" stroke-width="1" stroke-dasharray="3,3"/>
<line x1="2" y1="837.5" x2="1672" y2="837.5" stroke="#b4b4b4" stroke-width="1" stroke-dasharray="3,3"/>
<line x1="2" y1="898.5" x2="1672" y2="898.5" stroke="#b4b4b4" stroke-width="1" stroke-dasharray="3,3"/>
</g>
<g shape-rendering="crispEdges">
<polyline points="-4.5,818.5 3.5,816.5 11.5,809.5 19.5,827.5 27.5,824.5 35.5,834.5 43.5,834.5 51.5,832.5 59.5,825.5 67.5,817.5 75.5,813.5 83.5,801.5 91.5,799.5 99.5,798.5 107.5,799.5 115.5,814.5 123.5,832.5 131.5,825.5 139.5,828.5 147.5,828.5 155.5,843.5 163.5,831.5 171.5,835.5 179.5,831.5 187.5,830.5 195.5,830.5 203.5,827.5 211.5,827.5 219.5,823.5 227.5,827.5 235.5,829.5 243.5,848.5 251.5,859.5 259.5,873.5 267.5,874.5 275.5,877.5 283.5,873.5 291.5,859.5 299.5,846.5 307.5,842.5 315.5,840.5 323.5,844.5 331.5,840.5 339.5,836.5 347.5,852.5 355.5,846.5 363.5,838.5 371.5,828.5 379.5,829.5 387.5,833.5 395.5,842.5 403.5,846.5 411.5,855.5 419.5,855.5 427.5,853.5 435.5,860.5 443.5,860.5 451.5,846.5 459.5,841.5 467.5,840.5 475.5,840.5 483.5,844.5 491.5,842.5 499.5,857.5 507.5,860.5 515.5,861.5 523.5,865.5 531.5,850.5 539.5,822.5 547.5,825.5 555.5,815.5 563.5,813.5 571.5,810.5 579.5,812.5 587.5,812.5 595.5,811.5 603.5,824.5 611.5,818.5 619.5,814.5 627.5,811.5 635.5,817.5 643.5,817.5 651.5,825.5 659.5,817.5 667.5,817.5 675.5,822.5 683.5,809.5 691.5,810.5 699.5,812.5 707.5,806.5 715.5,805.5 723.5,819.5 731.5,814.5 739.5,809.5 747.5,806.5 755.5,806.5 763.5,809.5 771.5,814.5 779.5,816.5 787.5,812.5 795.5,797.5 803.5,795.5 811.5,794.5 819.5,799.5 827.5,796.5 835.5,794.5 843.5,789.5 851.5,789.5 859.5,800.5 867.5,805.5 875.5,813.5 883.5,808.5 891.5,806.5 899.5,802.5 907.5,811.5 915.5,807.5 923.5,795.5 931.5,794.5 939.5,793.5 947.5,808.5 955.5,795.5 963.5,790.5 971.5,804.5 979.5,808.5 987.5,816.5 995.5,820.5 1003.5,811.5 1011.5,817.5 1019.5,813.5 1027.5,828.5 1035.5,833.5 1043.5,833.5 1051.5,828.5 1059.5,821.5 1067.5,821.5 1075.5,830.5 1083.5,831.5 1091.5,830.5 1099.5,824.5 1107.5,845.5 1115.5,841.5 1123.5,846.5 1131.5,850.5 1139.5,847.5 1147.5,852.5 1155.5,844.5 1163.5,851.5 1171.5,837.5 1179.5,835.5 1187.5,830.5 1195.5,823.5 1203.5,827.5 1211.5,822.5 1219.5,821.5 1227.5,820.5 1235.5,816.5 1243.5,830.5 1251.5,825.5 1259.5,823.5 1267.5,808.5 1275.5,805.5 1283.5,801.5 1291.5,803.5 1299.5,795.5 1307.5,818.5 1315.5,847.5 1323.5,840.5 1331.5,837.5 1339.5,830.5 1347.5,838.5 1355.5,845.5 1363.5,849.5 1371.5,847.5 1379.5,851.5 1387.5,843.5 1395.5,840.5 1403.5,832.5" fill="none" stroke="#1e90ff" stroke-width="1" />
</g>
<g shape-rendering="crispEdges">
<rect x="1674" y="752" width="2" height="1" fill="#000"/>
<rect x="1674" y="786" width="2" height="1" fill="#000"/>
<rect x="1674" y="837" width="2" height="1" fill="#000"/>
<rect x="1674" y="898" width="2" height="1" fill="#000"/>
<rect x="1674" y="923" width="2" height="1" fill="#000"/>
</g>
<text x="1677" y="761" fill="#000" text-anchor="start" style="font-size:9.4px;" font-family='"Liberation Sans", Arial, sans-serif'  textLength="15.9" lengthAdjust="spacing" stroke="#000" stroke-width="0.12">100</text>
<text x="1677" y="790" fill="#000" text-anchor="start" style="font-size:9.4px;" font-family='"Liberation Sans", Arial, sans-serif'  textLength="10.8" lengthAdjust="spacing" stroke="#000" stroke-width="0.12">80</text>
<text x="1677" y="841" fill="#000" text-anchor="start" style="font-size:9.4px;" font-family='"Liberation Sans", Arial, sans-serif'  textLength="10.8" lengthAdjust="spacing" stroke="#000" stroke-width="0.12">50</text>
<text x="1677" y="902" fill="#000" text-anchor="start" style="font-size:9.4px;" font-family='"Liberation Sans", Arial, sans-serif'  textLength="10.8" lengthAdjust="spacing" stroke="#000" stroke-width="0.12">15</text>
<text x="1677" y="921" fill="#000" text-anchor="start" style="font-size:9.4px;" font-family='"Liberation Sans", Arial, sans-serif'  textLength="5.7" lengthAdjust="spacing" stroke="#000" stroke-width="0.12">0</text>
<g shape-rendering="crispEdges">
<rect x="59" y="925" width="1" height="3" fill="#000"/>
<rect x="123" y="925" width="1" height="3" fill="#000"/>
<rect x="187" y="925" width="1" height="3" fill="#000"/>
<rect x="251" y="925" width="1" height="3" fill="#000"/>
<rect x="315" y="925" width="1" height="3" fill="#000"/>
<rect x="379" y="925" width="1" height="3" fill="#000"/>
<rect x="443" y="925" width="1" height="3" fill="#000"/>
<rect x="507" y="925" width="1" height="3" fill="#000"/>
<rect x="571" y="925" width="1" height="3" fill="#000"/>
<rect x="635" y="925" width="1" height="3" fill="#000"/>
<rect x="699" y="925" width="1" height="3" fill="#000"/>
<rect x="763" y="925" width="1" height="3" fill="#000"/>
<rect x="827" y="925" width="1" height="3" fill="#000"/>
<rect x="891" y="925" width="1" height="3" fill="#000"/>
<rect x="955" y="925" width="1" height="3" fill="#000"/>
<rect x="1019" y="925" width="1" height="3" fill="#000"/>
<rect x="1083" y="925" width="1" height="3" fill="#000"/>
<rect x="1147" y="925" width="1" height="3" fill="#000"/>
<rect x="1211" y="925" width="1" height="3" fill="#000"/>
<rect x="1275" y="925" width="1" height="3" fill="#000"/>
<rect x="1339" y="925" width="1" height="3" fill="#000"/>
<rect x="1403" y="925" width="1" height="3" fill="#000"/>
</g>
<text x="-5.5" y="937" fill="#000" text-anchor="start" style="font-size:9.4px;" font-family='"Liberation Sans", Arial, sans-serif'  textLength="52.3" lengthAdjust="spacing" stroke="#000" stroke-width="0.12">16 Aug 2020</text>
<text x="57.7" y="937" fill="#000" text-anchor="start" style="font-size:9.4px;" font-family='"Liberation Sans", Arial, sans-serif'  textLength="52.3" lengthAdjust="spacing" stroke="#000" stroke-width="0.12">25 Aug 2020</text>
<text x="121.7" y="937" fill="#000" text-anchor="start" style="font-size:9.4px;" font-family='"Liberation Sans", Arial, sans-serif'  textLength="47.25" lengthAdjust="spacing" stroke="#000" stroke-width="0.12">3 Sep 2020</text>
<text x="185.7" y="937" fill="#000" text-anchor="start" style="font-size:9.4px;" font-family='"Liberation Sans", Arial, sans-serif'  textLength="52.3" lengthAdjust="spacing" stroke="#000" stroke-width="0.12">13 Sep 2020</text>
<text x="249.7" y="937" fill="#000" text-anchor="start" style="font-size:9.4px;" font-family='"Liberation Sans", Arial, sans-serif'  textLength="52.3" lengthAdjust="spacing" stroke="#000" stroke-width="0.12">22 Sep 2020</text>
<text x="313.7" y="937" fill="#000" text-anchor="start" style="font-size:9.4px;" font-family='"Liberation Sans", Arial, sans-serif'  textLength="45.75" lengthAdjust="spacing" stroke="#000" stroke-width="0.12">1 Oct 2020</text>
<text x="377.7" y="937" fill="#000" text-anchor="start" style="font-size:9.4px;" font-family='"Liberation Sans", Arial, sans-serif'  textLength="50.8" lengthAdjust="spacing" stroke="#000" stroke-width="0.12">11 Oct 2020</text>
<text x="441.7" y="937" fill="#000" text-anchor="start" style="font-size:9.4px;" font-family='"Liberation Sans", Arial, sans-serif'  textLength="50.8" lengthAdjust="spacing" stroke="#000" stroke-width="0.12">20 Oct 2020</text>
<text x="505.7" y="937" fill="#000" text-anchor="start" style="font-size:9.4px;" font-family='"Liberation Sans", Arial, sans-serif'  textLength="50.8" lengthAdjust="spacing" stroke="#000" stroke-width="0.12">29 Oct 2020</text>
<text x="569.7" y="937" fill="#000" text-anchor="start" style="font-size:9.4px;" font-family='"Liberation Sans", Arial, sans-serif'  textLength="48.25" lengthAdjust="spacing" stroke="#000" stroke-width="0.12">8 Nov 2020</text>
<text x="633.7" y="937" fill="#000" text-anchor="start" style="font-size:9.4px;" font-family='"Liberation Sans", Arial, sans-serif'  textLength="53.3" lengthAdjust="spacing" stroke="#000" stroke-width="0.12">17 Nov 2020</text>
<text x="697.7" y="937" fill="#000" text-anchor="start" style="font-size:9.4px;" font-family='"Liberation Sans", Arial, sans-serif'  textLength="53.3" lengthAdjust="spacing" stroke="#000" stroke-width="0.12">26 Nov 2020</text>
<text x="761.7" y="937" fill="#000" text-anchor="start" style="font-size:9.4px;" font-family='"Liberation Sans", Arial, sans-serif'  textLength="47.75" lengthAdjust="spacing" stroke="#000" stroke-width="0.12">6 Dec 2020</text>
<text x="825.7" y="937" fill="#000" text-anchor="start" style="font-size:9.4px;" font-family='"Liberation Sans", Arial, sans-serif'  textLength="52.8" lengthAdjust="spacing" stroke="#000" stroke-width="0.12">15 Dec 2020</text>
<text x="889.7" y="937" fill="#000" text-anchor="start" style="font-size:9.4px;" font-family='"Liberation Sans", Arial, sans-serif'  textLength="52.8" lengthAdjust="spacing" stroke="#000" stroke-width="0.12">24 Dec 2020</text>
<text x="953.7" y="937" fill="#000" text-anchor="start" style="font-size:9.4px;" font-family='"Liberation Sans", Arial, sans-serif'  textLength="45.25" lengthAdjust="spacing" stroke="#000" stroke-width="0.12">5 Jan 2021</text>
<text x="1017.7" y="937" fill="#000" text-anchor="start" style="font-size:9.4px;" font-family='"Liberation Sans", Arial, sans-serif'  textLength="50.3" lengthAdjust="spacing" stroke="#000" stroke-width="0.12">14 Jan 2021</text>
<text x="1081.7" y="937" fill="#000" text-anchor="start" style="font-size:9.4px;" font-family='"Liberation Sans", Arial, sans-serif'  textLength="50.3" lengthAdjust="spacing" stroke="#000" stroke-width="0.12">24 Jan 2021</text>
<text x="1145.7" y="937" fill="#000" text-anchor="start" style="font-size:9.4px;" font-family='"Liberation Sans", Arial, sans-serif'  textLength="46.25" lengthAdjust="spacing" stroke="#000" stroke-width="0.12">2 Feb 2021</text>
<text x="1209.7" y="937" fill="#000" text-anchor="start" style="font-size:9.4px;" font-family='"Liberation Sans", Arial, sans-serif'  textLength="51.3" lengthAdjust="spacing" stroke="#000" stroke-width="0.12">11 Feb 2021</text>
<text x="1273.7" y="937" fill="#000" text-anchor="start" style="font-size:9.4px;" font-family='"Liberation Sans", Arial, sans-serif'  textLength="51.3" lengthAdjust="spacing" stroke="#000" stroke-width="0.12">21 Feb 2021</text>
<text x="1337.7" y="937" fill="#000" text-anchor="start" style="font-size:9.4px;" font-family='"Liberation Sans", Arial, sans-serif'  textLength="46.75" lengthAdjust="spacing" stroke="#000" stroke-width="0.12">2 Mar 2021</text>
<text x="1401.7" y="937" fill="#000" text-anchor="start" style="font-size:9.4px;" font-family='"Liberation Sans", Arial, sans-serif'  textLength="51.8" lengthAdjust="spacing" stroke="#000" stroke-width="0.12">11 Mar 2021</text>
<g id="panel" shape-rendering="crispEdges">
<!-- SELL tab -->
<rect x="0" y="43" width="50" height="24" fill="#1010a8"/>
<rect x="0" y="44" width="49" height="22" fill="url(#gtab)"/>
<rect x="2" y="67" width="45" height="1" fill="#8a8aff"/>
<!-- BUY tab -->
<rect x="165" y="43" width="52" height="24" fill="#1010a8"/>
<rect x="166" y="44" width="50" height="22" fill="url(#gtab)"/>
<!-- lower boxes -->
<rect x="0" y="66" width="107" height="41" fill="#1010a8"/>
<rect x="0" y="68" width="106" height="38" fill="url(#gboxU)"/>
<rect x="2" y="66" width="45" height="1" fill="#2020a0"/>
<rect x="2" y="67" width="45" height="1" fill="#8a8aff"/>
<rect x="109" y="66" width="108" height="41" fill="#1010a8"/>
<rect x="110" y="68" width="106" height="38" fill="url(#gboxU)"/>
<rect x="169" y="66" width="45" height="1" fill="#2020a0"/>
<rect x="169" y="67" width="45" height="1" fill="#8a8aff"/>
<!-- white surround of volume control -->
<rect x="50" y="43" width="115" height="24" fill="#fff"/>
<!-- volume control -->
<rect x="52" y="43" width="111" height="22" fill="#a8a8a8"/>
<rect x="53" y="44" width="109" height="20" fill="#fff"/>
<rect x="53" y="44" width="20" height="20" fill="url(#gbtn)"/>
<rect x="73" y="44" width="1" height="20" fill="#b4b4b4"/>
<rect x="141" y="44" width="1" height="20" fill="#b4b4b4"/>
<rect x="142" y="44" width="20" height="20" fill="url(#gbtn)"/>
</g>
<polygon points="59.5,52 65.5,52 62.5,55" fill="#5a6aa8"/>
<polygon points="148.5,55.5 154.5,55.5 151.5,52.5" fill="#5a6aa8"/>
<text x="137" y="58" text-anchor="end" style="font-size:12px" font-family='"Liberation Sans", Arial, sans-serif' fill="#000">1.00</text>
<text x="10.5" y="59" style="font-size:12px" font-family='"Liberation Sans", Arial, sans-serif' fill="#fff" transform="translate(10.5 0) scale(0.88 1) translate(-10.5 0)">SELL</text>
<text x="178.5" y="59" style="font-size:12px" font-family='"Liberation Sans", Arial, sans-serif' fill="#fff" transform="translate(178.5 0) scale(0.95 1) translate(-178.5 0)">BUY</text>
<text x="18" y="97.6" style="font-size:12px;font-weight:bold" font-family='"Liberation Sans", Arial, sans-serif' fill="#fff">0.77</text>
<text x="127.8" y="97.6" style="font-size:12px;font-weight:bold" font-family='"Liberation Sans", Arial, sans-serif' fill="#fff">0.77</text>
<text x="45" y="97.6" style="font-size:33.5px" font-family='"DejaVu Sans", sans-serif' fill="#fff" stroke="url(#gboxU)" stroke-width="0.45" transform="translate(45 0) scale(0.875 1) translate(-45 0)">91</text>
<text x="156" y="97.6" style="font-size:33.5px" font-family='"DejaVu Sans", sans-serif' fill="#fff" stroke="url(#gboxU)" stroke-width="0.45" transform="translate(156 0) scale(0.875 1) translate(-156 0)">93</text>
<text x="84.5" y="82" style="font-size:11.5px;font-weight:bold" font-family='"Liberation Sans", Arial, sans-serif' fill="#fff">6</text>
<text x="195.5" y="82" style="font-size:11.5px;font-weight:bold" font-family='"Liberation Sans", Arial, sans-serif' fill="#fff">9</text>

</svg></body></html>
